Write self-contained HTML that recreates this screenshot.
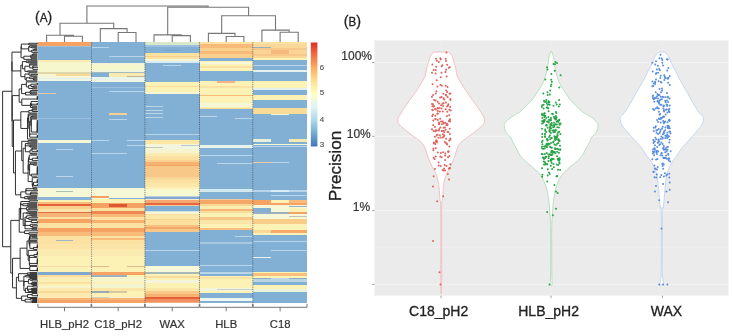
<!DOCTYPE html>
<html><head><meta charset="utf-8"><style>
html,body{margin:0;padding:0;background:#fff;}
body{width:733px;height:336px;overflow:hidden;position:relative;}
svg{position:absolute;left:0;top:0;will-change:transform;}
text{font-family:"Liberation Sans",sans-serif;}
</style></head><body>
<svg width="733" height="336" viewBox="0 0 733 336">
<rect x="0" y="0" width="733" height="336" fill="#fff"/>
<!-- Panel A -->
<text x="35" y="21.5" font-size="13" fill="#222" stroke="#222" stroke-width="0.3" textLength="17.2" lengthAdjust="spacingAndGlyphs"><tspan font-size="15.5">(</tspan>A<tspan font-size="15.5">)</tspan></text>
<path d="M64.5 42.3L64.5 36.3L82.4 36.3L82.4 42.3M46.6 42.3L46.6 35.3L73.5 35.3L73.5 36.3M118.2 42.3L118.2 32.5L136.0 32.5L136.0 42.3M100.3 42.3L100.3 28.6L127.1 28.6L127.1 32.5M60.0 35.3L60.0 23.3L113.7 23.3L113.7 28.6M172.2 42.3L172.2 35.6L190.4 35.6L190.4 42.3M154.0 42.3L154.0 34.9L181.3 34.9L181.3 35.6M226.2 42.3L226.2 36.5L243.9 36.5L243.9 42.3M208.4 42.3L208.4 33.4L235.0 33.4L235.0 36.5M280.1 42.3L280.1 32.3L298.2 32.3L298.2 42.3M261.9 42.3L261.9 30.1L289.1 30.1L289.1 32.3M221.7 33.4L221.7 15.7L275.5 15.7L275.5 30.1M167.7 34.9L167.7 7.2L248.6 7.2L248.6 15.7M86.9 23.3L86.9 6.0L208.1 6.0L208.1 7.2" fill="none" stroke="#777" stroke-width="1.1"/>
<path d="M37.40 42.80H37.34V43.80H37.40M37.40 51.82H37.34V52.83H37.40M37.40 66.86H37.34V67.87H37.40M37.40 68.87H37.34V69.87H37.40M37.40 73.88H37.34V74.89H37.40M37.40 82.91H37.34V83.91H37.40M37.34 83.41H37.31V84.91H37.40M37.40 89.93H37.34V90.93H37.40M37.40 95.94H37.34V96.95H37.40M37.34 96.44H37.31V97.95H37.40M37.31 97.20H37.29V98.95H37.40M37.29 98.07H37.27V99.95H37.40M37.40 100.96H37.34V101.96H37.40M37.40 102.96H37.34V103.96H37.40M37.34 103.46H37.31V104.97H37.40M37.40 110.98H37.34V111.99H37.40M37.40 120.01H37.34V121.01H37.40M37.34 120.51H37.31V122.01H37.40M37.31 121.26H37.29V123.02H37.40M37.29 122.14H37.27V124.02H37.40M37.27 123.08H37.26V125.02H37.40M37.26 124.05H37.25V126.02H37.40M37.25 125.04H37.23V127.03H37.40M37.23 126.03H37.22V128.03H37.40M37.22 127.03H37.21V129.03H37.40M37.21 128.03H37.20V130.04H37.40M37.20 129.03H37.19V131.04H37.40M37.19 130.04H37.18V132.04H37.40M37.18 131.04H37.17V133.04H37.40M37.40 135.05H37.34V136.05H37.40M37.34 135.55H37.31V137.05H37.40M37.31 136.30H37.29V138.06H37.40M37.40 150.09H37.34V151.09H37.40M37.34 150.59H37.31V152.09H37.40M37.40 156.11H37.34V157.11H37.40M37.34 156.61H37.31V158.11H37.40M37.31 157.36H37.29V159.11H37.40M37.40 160.12H37.34V161.12H37.40M37.40 166.13H37.34V167.14H37.40M37.34 166.63H37.31V168.14H37.40M37.31 167.39H37.29V169.14H37.40M37.29 168.26H37.27V170.14H37.40M37.27 169.20H37.26V171.15H37.40M37.26 170.17H37.25V172.15H37.40M37.25 171.16H37.23V173.15H37.40M37.23 172.16H37.22V174.15H37.40M37.22 173.16H37.21V175.16H37.40M37.40 177.16H37.34V178.16H37.40M37.40 179.17H37.34V180.17H37.40M37.34 179.67H37.31V181.17H37.40M37.31 180.42H37.29V182.18H37.40M37.29 181.30H37.27V183.18H37.40M37.40 184.18H37.34V185.18H37.40M37.34 184.68H37.31V186.19H37.40M37.40 190.20H37.34V191.20H37.40M37.40 193.21H37.34V194.21H37.40M37.40 200.22H37.34V201.23H37.40M37.40 209.25H37.34V210.25H37.40M37.40 217.27H37.34V218.27H37.40M37.40 221.28H37.34V222.28H37.40M37.34 221.78H37.31V223.29H37.40M37.40 225.29H37.34V226.29H37.40M37.40 230.31H37.34V231.31H37.40M37.40 232.31H37.34V233.31H37.40M37.40 238.33H37.34V239.33H37.40M37.40 242.34H37.34V243.34H37.40M37.40 244.34H37.34V245.35H37.40M37.34 244.84H37.31V246.35H37.40M37.31 245.60H37.29V247.35H37.40M37.29 246.47H37.27V248.35H37.40M37.40 251.36H37.34V252.36H37.40M37.34 251.86H37.31V253.37H37.40M37.31 252.62H37.29V254.37H37.40M37.29 253.49H37.27V255.37H37.40M37.40 258.38H37.34V259.38H37.40M37.34 258.88H37.31V260.39H37.40M37.31 259.63H37.29V261.39H37.40M37.29 260.51H37.27V262.39H37.40M37.27 261.45H37.26V263.39H37.40M37.26 262.42H37.25V264.40H37.40M37.40 267.41H37.34V268.41H37.40M37.34 267.91H37.31V269.41H37.40M37.31 268.66H37.29V270.41H37.40M37.29 269.54H37.27V271.42H37.40M37.40 280.44H37.34V281.44H37.40M37.40 286.46H37.34V287.46H37.40M37.40 294.48H37.34V295.48H37.40M37.34 294.98H37.31V296.48H37.40M37.40 48.82H34.96V49.82H37.40M37.27 254.43H34.00V256.38H37.40M37.40 78.90H33.80V79.90H37.40M34.96 49.32H33.59V50.82H37.40M37.27 182.24H33.52V185.43H37.31M37.27 247.41H33.48V249.36H37.40M37.40 164.13H33.33V165.13H37.40M37.40 77.89H33.26V79.40H33.80M37.40 188.19H33.21V189.19H37.40M37.40 85.92H33.15V86.92H37.40M37.40 53.83H33.10V54.83H37.40M37.40 65.86H32.84V67.37H37.34M32.84 66.61H32.84V69.37H37.34M37.40 285.45H32.83V286.96H37.34M33.52 183.84H32.64V187.19H37.40M37.40 299.49H32.56V300.49H37.40M33.10 54.33H32.40V55.84H37.40M37.29 158.24H32.35V160.62H37.34M37.34 177.66H32.26V185.51H32.64M37.40 282.45H32.23V283.45H37.40M37.34 225.79H32.20V227.30H37.40M37.40 108.98H32.18V109.98H37.40M32.18 109.48H32.18V111.49H37.34M37.40 116.00H32.18V117.00H37.40M37.40 236.32H32.18V237.32H37.40M37.40 106.97H32.17V107.98H37.40M37.40 293.48H32.05V295.73H37.31M37.40 87.92H32.05V88.92H37.40M37.40 148.08H31.95V149.09H37.40M31.95 148.59H31.95V151.34H37.31M37.40 279.44H31.85V280.94H37.34M37.40 228.30H31.82V229.30H37.40M37.40 301.50H31.80V302.50H37.40M33.59 50.07H31.79V52.33H37.34M37.40 289.46H31.66V290.47H37.40M37.31 104.22H31.62V105.97H37.40M37.40 215.26H31.61V216.27H37.40M37.40 46.81H31.51V47.81H37.40M32.23 282.95H31.50V284.45H37.40M37.21 174.16H31.34V176.16H37.40M37.40 220.28H31.32V222.53H37.31M37.40 288.46H31.31V289.97H31.66M37.40 119.01H31.30V132.04H37.17M37.34 74.39H31.26V75.89H37.40M37.40 140.06H31.19V141.06H37.40M37.40 153.10H31.19V154.10H37.40M37.34 101.46H31.17V105.09H31.62M37.40 58.84H31.16V59.85H37.40M37.31 84.16H30.91V86.42H33.15M37.40 192.20H30.87V193.71H37.34M37.40 56.84H30.83V57.84H37.40M32.40 55.08H30.83V57.34H30.83M32.18 116.50H30.80V118.00H37.40M30.80 117.25H30.80V125.52H31.30M37.34 90.43H30.73V91.93H37.40M37.40 92.94H30.68V93.94H37.40M37.40 163.12H30.65V164.63H33.33M31.17 103.28H30.46V107.47H32.17M30.87 192.95H30.36V195.21H37.40M37.40 224.29H30.32V226.55H32.20M37.40 298.49H30.25V299.99H32.56M37.40 272.42H30.14V273.42H37.40M30.73 91.18H30.09V93.44H30.68M31.95 149.96H30.01V153.60H31.19M37.40 146.08H29.96V147.08H37.40M37.40 278.44H29.93V280.19H31.85M37.40 145.08H29.90V146.58H29.96M37.34 242.84H29.86V248.39H33.48M32.18 236.82H29.85V238.83H37.34M37.40 235.32H29.85V237.83H29.85M37.40 266.40H29.74V270.48H37.27M37.40 76.89H29.72V78.65H33.26M37.40 63.86H29.72V64.86H37.40M29.72 64.36H29.72V67.99H32.84M37.40 134.05H29.67V137.18H37.29M30.80 121.39H29.67V135.61H29.67M37.40 45.81H29.62V47.31H31.51M30.65 163.88H29.58V175.16H31.34M37.25 263.41H29.50V265.40H37.40M29.85 236.57H29.48V240.33H37.40M37.40 213.26H29.46V214.26H37.40M37.40 241.34H29.39V245.61H29.86M37.34 200.73H29.36V202.23H37.40M34.00 255.40H29.29V257.38H37.40M29.29 256.39H29.29V264.41H29.50M37.40 155.10H29.26V159.43H32.35M37.40 208.25H29.23V209.75H37.34M37.40 276.43H29.13V277.43H37.40M29.48 238.45H28.98V243.47H29.39M37.40 72.88H28.94V75.14H31.26M37.34 232.81H28.91V234.32H37.40M32.18 110.48H28.90V112.99H37.40M37.40 114.99H28.78V128.50H29.67M37.34 43.30H28.76V44.81H37.40M37.34 217.77H28.70V219.28H37.40M29.62 46.56H28.65V51.20H31.79M30.91 85.29H28.65V88.42H32.05M29.26 157.26H28.63V162.12H37.40M29.93 279.31H28.39V283.70H31.50M28.63 159.69H28.31V169.52H29.58M31.31 289.21H28.30V291.47H37.40M37.40 250.36H28.23V260.40H29.29M31.19 140.56H28.20V142.07H37.40M37.40 113.99H28.18V121.75H28.78M37.40 198.22H28.16V199.22H37.40M28.31 164.61H28.13V181.59H32.26M29.23 209.00H28.01V211.25H37.40M37.40 61.85H27.89V62.85H37.40M37.40 203.23H27.59V204.24H37.40M32.83 286.21H27.54V290.34H28.30M37.40 70.88H27.52V71.88H37.40M37.40 196.21H27.49V197.22H37.40M28.18 117.87H27.48V139.06H37.40M32.05 294.60H27.48V297.49H37.40M37.40 143.07H27.40V144.07H37.40M37.40 205.24H27.36V206.24H37.40M30.14 272.92H27.29V274.42H37.40M28.98 240.96H27.02V255.38H28.23M37.40 212.26H26.76V213.76H29.46M31.61 215.77H26.68V218.52H28.70M37.40 207.24H26.65V210.13H28.01M37.40 81.91H26.33V86.86H28.65M29.72 77.77H26.24V80.90H37.40M37.40 60.85H26.13V62.35H27.89M33.21 188.69H25.92V190.70H37.34M25.92 189.70H25.92V194.08H30.36M37.40 275.43H25.77V276.93H29.13M30.09 92.31H25.44V94.94H37.40M27.54 288.27H25.38V292.47H37.40M27.40 143.57H25.36V145.83H29.90M25.36 144.70H25.36V151.78H30.01M30.25 299.24H25.18V302.00H31.80M26.68 217.14H25.01V221.41H31.32M25.01 219.28H25.01V225.42H30.32M25.01 222.35H25.01V228.80H31.82M28.94 74.01H24.96V79.34H26.24M29.72 66.18H24.89V71.38H27.52M27.49 196.71H24.66V198.72H28.16M37.34 230.81H24.61V233.56H28.91M28.39 281.51H23.89V290.37H25.38M25.77 276.18H23.89V285.94H23.89M30.83 56.21H23.84V59.34H31.16M26.76 213.01H23.20V225.57H25.01M25.36 148.24H23.15V173.10H28.13M27.59 203.73H22.79V205.74H27.36M26.13 61.60H22.36V68.78H24.89M37.27 99.01H21.81V105.37H30.46M28.20 141.32H21.74V160.67H23.15M27.48 296.05H21.64V300.62H25.18M26.33 84.38H21.60V93.62H25.44M28.76 44.05H21.30V48.88H28.65M21.30 46.47H21.06V57.78H23.84M29.36 201.48H20.88V204.74H22.79M22.36 65.19H20.84V76.67H24.96M28.90 111.74H20.82V128.46H27.48M25.92 191.89H20.79V197.72H24.66M26.65 208.68H20.60V219.29H23.20M20.88 203.11H20.60V213.99H20.60M27.02 248.17H20.11V268.44H29.74M20.60 208.55H19.22V232.19H24.61M21.60 89.00H19.15V102.19H21.81M27.29 273.67H18.58V281.06H23.89M18.58 277.37H16.38V298.33H21.64M21.74 150.99H15.44V194.80H20.79M20.82 120.10H13.53V172.90H15.44M20.11 258.31H12.55V287.85H16.38M19.15 95.60H12.23V146.50H13.53M21.06 52.12H11.96V70.93H20.84M11.96 61.53H11.96V121.05H12.23M19.22 220.37H10.77V273.08H12.55M11.96 91.29H2.60V246.72H10.77" fill="none" stroke="#1a1a1a" stroke-width="0.9"/>
<g shape-rendering="crispEdges">
<rect x="37.60" y="42.30" width="53.80" height="3.50" fill="#f5a263"/>
<rect x="37.60" y="45.80" width="53.80" height="1.20" fill="#9cc0dc"/>
<rect x="37.60" y="47.00" width="53.80" height="13.00" fill="#82b0d5"/>
<rect x="37.60" y="60.00" width="53.80" height="1.50" fill="#fbeab0"/>
<rect x="37.60" y="61.50" width="53.80" height="10.80" fill="#f6f7cc"/>
<rect x="37.60" y="72.30" width="53.80" height="1.20" fill="#e0d8a8"/>
<rect x="37.60" y="73.50" width="53.80" height="2.70" fill="#f9da98"/>
<rect x="37.60" y="76.20" width="53.80" height="1.90" fill="#f6f7d8"/>
<rect x="37.60" y="78.10" width="53.80" height="1.20" fill="#e0f0ec"/>
<rect x="37.60" y="79.30" width="53.80" height="1.90" fill="#f0f6e4"/>
<rect x="37.60" y="81.20" width="53.80" height="58.60" fill="#82b0d5"/>
<rect x="37.60" y="139.80" width="53.80" height="2.80" fill="#f5f7d6"/>
<rect x="37.60" y="142.60" width="53.80" height="45.10" fill="#82b0d5"/>
<rect x="37.60" y="187.70" width="53.80" height="8.90" fill="#f5f7d6"/>
<rect x="37.60" y="196.60" width="53.80" height="3.60" fill="#8cb4d6"/>
<rect x="37.60" y="200.20" width="53.80" height="1.40" fill="#fcf2b6"/>
<rect x="37.60" y="201.60" width="53.80" height="1.90" fill="#f8bb7a"/>
<rect x="37.60" y="203.50" width="53.80" height="2.90" fill="#e4623b"/>
<rect x="37.60" y="206.40" width="53.80" height="2.20" fill="#f9cf8c"/>
<rect x="37.60" y="208.60" width="53.80" height="3.00" fill="#fbe4a8"/>
<rect x="37.60" y="211.60" width="53.80" height="1.40" fill="#dc7048"/>
<rect x="37.60" y="213.00" width="53.80" height="4.10" fill="#f6b478"/>
<rect x="37.60" y="217.10" width="53.80" height="2.20" fill="#fbe1a2"/>
<rect x="37.60" y="219.30" width="53.80" height="4.10" fill="#f5a263"/>
<rect x="37.60" y="223.40" width="53.80" height="4.50" fill="#fbe1a2"/>
<rect x="37.60" y="227.90" width="53.80" height="4.40" fill="#f5a263"/>
<rect x="37.60" y="232.30" width="53.80" height="3.60" fill="#f8bb7a"/>
<rect x="37.60" y="235.90" width="53.80" height="3.60" fill="#fbe1a2"/>
<rect x="37.60" y="239.50" width="53.80" height="4.50" fill="#fbe1a2"/>
<rect x="37.60" y="244.00" width="53.80" height="5.00" fill="#fbe4a6"/>
<rect x="37.60" y="249.00" width="53.80" height="7.00" fill="#fcebb0"/>
<rect x="37.60" y="256.00" width="53.80" height="10.00" fill="#fcf2b6"/>
<rect x="37.60" y="266.00" width="53.80" height="1.00" fill="#f6dcaa"/>
<rect x="37.60" y="267.00" width="53.80" height="5.00" fill="#fcf2b6"/>
<rect x="37.60" y="272.00" width="53.80" height="3.40" fill="#7ea8cc"/>
<rect x="37.60" y="275.40" width="53.80" height="2.00" fill="#fadca0"/>
<rect x="37.60" y="277.40" width="53.80" height="4.10" fill="#fceeb4"/>
<rect x="37.60" y="281.50" width="53.80" height="2.00" fill="#fbe0a0"/>
<rect x="37.60" y="283.50" width="53.80" height="2.80" fill="#fcf2b6"/>
<rect x="37.60" y="286.30" width="53.80" height="2.00" fill="#f8f4d0"/>
<rect x="37.60" y="288.30" width="53.80" height="2.70" fill="#fceab0"/>
<rect x="37.60" y="291.00" width="53.80" height="2.10" fill="#fad898"/>
<rect x="37.60" y="293.10" width="53.80" height="4.80" fill="#fceab0"/>
<rect x="37.60" y="297.90" width="53.80" height="2.40" fill="#f6b478"/>
<rect x="37.60" y="300.30" width="53.80" height="2.50" fill="#f4a466"/>
<rect x="37.60" y="73.50" width="17.93" height="2.70" fill="#f4f6d0"/>
<rect x="37.60" y="92.50" width="17.93" height="1.00" fill="#e8c8a8"/>
<rect x="37.60" y="118.00" width="17.93" height="1.00" fill="#9cc0e0"/>
<rect x="55.53" y="118.00" width="17.93" height="1.00" fill="#9cc0e0"/>
<rect x="73.47" y="118.00" width="17.93" height="1.00" fill="#9cc0e0"/>
<rect x="55.53" y="148.50" width="17.93" height="1.00" fill="#b8d5ea"/>
<rect x="55.53" y="175.50" width="17.93" height="1.00" fill="#b8d5ea"/>
<rect x="55.53" y="191.30" width="17.93" height="1.00" fill="#b0c0b8"/>
<rect x="55.53" y="240.00" width="17.93" height="1.00" fill="#a0b4c4"/>
<rect x="91.40" y="42.30" width="53.50" height="20.30" fill="#82b0d5"/>
<rect x="91.40" y="62.60" width="53.50" height="1.20" fill="#eef4d8"/>
<rect x="91.40" y="63.80" width="53.50" height="6.60" fill="#f6f7cc"/>
<rect x="91.40" y="70.40" width="53.50" height="1.60" fill="#f4f6dc"/>
<rect x="91.40" y="72.00" width="53.50" height="1.10" fill="#a8b8c0"/>
<rect x="91.40" y="73.10" width="53.50" height="3.50" fill="#f9eab0"/>
<rect x="91.40" y="76.60" width="53.50" height="3.80" fill="#e8f4ec"/>
<rect x="91.40" y="80.40" width="53.50" height="1.80" fill="#f0f6e4"/>
<rect x="91.40" y="82.20" width="53.50" height="105.50" fill="#82b0d5"/>
<rect x="91.40" y="187.70" width="53.50" height="8.30" fill="#f5f7d6"/>
<rect x="91.40" y="196.00" width="53.50" height="2.00" fill="#f5f7d6"/>
<rect x="91.40" y="198.00" width="53.50" height="1.30" fill="#82b0d5"/>
<rect x="91.40" y="199.30" width="53.50" height="3.30" fill="#fcf2b6"/>
<rect x="91.40" y="202.60" width="53.50" height="5.00" fill="#f5a263"/>
<rect x="91.40" y="207.60" width="53.50" height="3.80" fill="#fbe1a2"/>
<rect x="91.40" y="211.40" width="53.50" height="2.50" fill="#ee8852"/>
<rect x="91.40" y="213.90" width="53.50" height="3.20" fill="#f8bb7a"/>
<rect x="91.40" y="217.10" width="53.50" height="2.70" fill="#fbe1a2"/>
<rect x="91.40" y="219.80" width="53.50" height="3.60" fill="#f7b070"/>
<rect x="91.40" y="223.40" width="53.50" height="4.50" fill="#fbe1a2"/>
<rect x="91.40" y="227.90" width="53.50" height="3.90" fill="#f5a263"/>
<rect x="91.40" y="231.80" width="53.50" height="4.10" fill="#f8bb7a"/>
<rect x="91.40" y="235.90" width="53.50" height="2.10" fill="#fbe1a2"/>
<rect x="91.40" y="238.00" width="53.50" height="2.00" fill="#f8bb7a"/>
<rect x="91.40" y="240.00" width="53.50" height="4.00" fill="#fbe1a2"/>
<rect x="91.40" y="244.00" width="53.50" height="5.00" fill="#fbe4a6"/>
<rect x="91.40" y="249.00" width="53.50" height="7.00" fill="#fcebb0"/>
<rect x="91.40" y="256.00" width="53.50" height="15.60" fill="#fcf2b6"/>
<rect x="91.40" y="271.60" width="53.50" height="3.50" fill="#f5a263"/>
<rect x="91.40" y="275.10" width="53.50" height="1.90" fill="#fcf2b6"/>
<rect x="91.40" y="277.00" width="53.50" height="4.50" fill="#f8f4cc"/>
<rect x="91.40" y="281.50" width="53.50" height="2.70" fill="#fcf2b6"/>
<rect x="91.40" y="284.20" width="53.50" height="3.40" fill="#f4f4d0"/>
<rect x="91.40" y="287.60" width="53.50" height="3.40" fill="#fbe6a8"/>
<rect x="91.40" y="291.00" width="53.50" height="2.10" fill="#fcf2b6"/>
<rect x="91.40" y="293.10" width="53.50" height="3.40" fill="#fcf2b6"/>
<rect x="91.40" y="296.50" width="53.50" height="1.40" fill="#f4f0d0"/>
<rect x="91.40" y="297.90" width="53.50" height="2.40" fill="#f6b478"/>
<rect x="91.40" y="300.30" width="53.50" height="2.50" fill="#f4a466"/>
<rect x="91.40" y="47.00" width="17.83" height="1.00" fill="#b8d5ea"/>
<rect x="109.23" y="56.00" width="17.83" height="1.00" fill="#b8d5ea"/>
<rect x="127.07" y="56.00" width="17.83" height="1.00" fill="#b8d5ea"/>
<rect x="91.40" y="73.10" width="17.83" height="3.50" fill="#82b0d5"/>
<rect x="127.07" y="75.80" width="17.83" height="1.20" fill="#c8b090"/>
<rect x="91.40" y="87.00" width="17.83" height="1.00" fill="#9cc0e0"/>
<rect x="109.23" y="87.00" width="17.83" height="1.00" fill="#9cc0e0"/>
<rect x="127.07" y="87.00" width="17.83" height="1.00" fill="#9cc0e0"/>
<rect x="109.23" y="91.30" width="17.83" height="1.00" fill="#b8d5ea"/>
<rect x="127.07" y="91.30" width="17.83" height="1.00" fill="#b8d5ea"/>
<rect x="109.23" y="112.70" width="17.83" height="1.90" fill="#f9cf8c"/>
<rect x="109.23" y="119.00" width="17.83" height="1.00" fill="#b8d5ea"/>
<rect x="91.40" y="140.00" width="17.83" height="1.00" fill="#b8d5ea"/>
<rect x="127.07" y="140.00" width="17.83" height="1.00" fill="#b8d5ea"/>
<rect x="127.07" y="144.80" width="17.83" height="1.00" fill="#b8d5ea"/>
<rect x="91.40" y="153.00" width="17.83" height="1.00" fill="#b8d5ea"/>
<rect x="109.23" y="153.00" width="17.83" height="1.00" fill="#b8d5ea"/>
<rect x="91.40" y="196.00" width="17.83" height="2.00" fill="#f5a263"/>
<rect x="91.40" y="198.00" width="17.83" height="1.30" fill="#f5f7d6"/>
<rect x="109.23" y="204.00" width="17.83" height="2.60" fill="#dc5834"/>
<rect x="91.40" y="265.80" width="17.83" height="1.00" fill="#e0b890"/>
<rect x="127.07" y="265.80" width="17.83" height="1.00" fill="#e0b890"/>
<rect x="91.40" y="275.10" width="17.83" height="1.90" fill="#a0b0c0"/>
<rect x="109.23" y="275.10" width="17.83" height="1.90" fill="#a0b0c0"/>
<rect x="91.40" y="291.00" width="17.83" height="2.10" fill="#9caab0"/>
<rect x="109.23" y="291.00" width="17.83" height="2.10" fill="#d8c8a0"/>
<rect x="91.40" y="296.50" width="17.83" height="1.40" fill="#d0d0c0"/>
<rect x="144.90" y="42.30" width="54.60" height="2.50" fill="#d8e8c8"/>
<rect x="144.90" y="44.80" width="54.60" height="2.00" fill="#9cc0dd"/>
<rect x="144.90" y="46.80" width="54.60" height="6.40" fill="#82b0d5"/>
<rect x="144.90" y="53.20" width="54.60" height="2.30" fill="#fbe1a2"/>
<rect x="144.90" y="55.50" width="54.60" height="1.50" fill="#f9cf8c"/>
<rect x="144.90" y="57.00" width="54.60" height="2.30" fill="#fbe1a2"/>
<rect x="144.90" y="59.30" width="54.60" height="2.00" fill="#f5f7d6"/>
<rect x="144.90" y="61.30" width="54.60" height="1.90" fill="#d8ecf0"/>
<rect x="144.90" y="63.20" width="54.60" height="18.40" fill="#82b0d5"/>
<rect x="144.90" y="81.60" width="54.60" height="4.20" fill="#fcf2b6"/>
<rect x="144.90" y="85.80" width="54.60" height="1.60" fill="#f9dc98"/>
<rect x="144.90" y="87.40" width="54.60" height="4.80" fill="#fcf2b6"/>
<rect x="144.90" y="92.20" width="54.60" height="2.00" fill="#f5f7d6"/>
<rect x="144.90" y="94.20" width="54.60" height="45.50" fill="#82b0d5"/>
<rect x="144.90" y="139.70" width="54.60" height="4.20" fill="#fbe6a4"/>
<rect x="144.90" y="143.90" width="54.60" height="2.10" fill="#f4f6d8"/>
<rect x="144.90" y="146.00" width="54.60" height="2.70" fill="#f0f6e0"/>
<rect x="144.90" y="148.70" width="54.60" height="4.10" fill="#f6f4d0"/>
<rect x="144.90" y="152.80" width="54.60" height="3.00" fill="#fbebb0"/>
<rect x="144.90" y="155.80" width="54.60" height="4.20" fill="#fbe0a0"/>
<rect x="144.90" y="160.00" width="54.60" height="2.40" fill="#f9d090"/>
<rect x="144.90" y="162.40" width="54.60" height="2.10" fill="#f6b474"/>
<rect x="144.90" y="164.50" width="54.60" height="1.50" fill="#f4a462"/>
<rect x="144.90" y="166.00" width="54.60" height="2.00" fill="#f8c888"/>
<rect x="144.90" y="168.00" width="54.60" height="8.50" fill="#f8c888"/>
<rect x="144.90" y="176.50" width="54.60" height="2.20" fill="#f9d498"/>
<rect x="144.90" y="178.70" width="54.60" height="4.50" fill="#fbe0a0"/>
<rect x="144.90" y="183.20" width="54.60" height="3.70" fill="#fbe8a8"/>
<rect x="144.90" y="186.90" width="54.60" height="2.20" fill="#fcf0b8"/>
<rect x="144.90" y="189.10" width="54.60" height="6.60" fill="#f8f8d0"/>
<rect x="144.90" y="195.70" width="54.60" height="1.10" fill="#b8d0e0"/>
<rect x="144.90" y="196.80" width="54.60" height="2.60" fill="#80a8d0"/>
<rect x="144.90" y="199.40" width="54.60" height="0.80" fill="#f4ecd0"/>
<rect x="144.90" y="200.20" width="54.60" height="2.60" fill="#f6a870"/>
<rect x="144.90" y="202.80" width="54.60" height="2.20" fill="#e4683c"/>
<rect x="144.90" y="205.00" width="54.60" height="1.10" fill="#f6c8a0"/>
<rect x="144.90" y="206.10" width="54.60" height="4.90" fill="#82b0d5"/>
<rect x="144.90" y="211.00" width="54.60" height="1.00" fill="#d8e4e0"/>
<rect x="144.90" y="212.00" width="54.60" height="1.90" fill="#f5f7d6"/>
<rect x="144.90" y="213.90" width="54.60" height="1.40" fill="#fadc9c"/>
<rect x="144.90" y="215.30" width="54.60" height="3.40" fill="#fbe8a8"/>
<rect x="144.90" y="218.70" width="54.60" height="1.50" fill="#f9d090"/>
<rect x="144.90" y="220.20" width="54.60" height="4.40" fill="#fbe0a0"/>
<rect x="144.90" y="224.60" width="54.60" height="2.30" fill="#f8c080"/>
<rect x="144.90" y="226.90" width="54.60" height="1.80" fill="#f4a868"/>
<rect x="144.90" y="228.70" width="54.60" height="3.40" fill="#f8c888"/>
<rect x="144.90" y="232.10" width="54.60" height="33.50" fill="#82b0d5"/>
<rect x="144.90" y="265.60" width="54.60" height="6.40" fill="#f8f8d8"/>
<rect x="144.90" y="272.00" width="54.60" height="1.70" fill="#a8b8b8"/>
<rect x="144.90" y="273.70" width="54.60" height="1.90" fill="#fcf2b6"/>
<rect x="144.90" y="275.60" width="54.60" height="2.10" fill="#fadc9c"/>
<rect x="144.90" y="277.70" width="54.60" height="2.20" fill="#fcf2b6"/>
<rect x="144.90" y="279.90" width="54.60" height="3.50" fill="#f4f4dc"/>
<rect x="144.90" y="283.40" width="54.60" height="4.30" fill="#fcf2b6"/>
<rect x="144.90" y="287.70" width="54.60" height="2.90" fill="#fbe6a8"/>
<rect x="144.90" y="290.60" width="54.60" height="3.50" fill="#f8c888"/>
<rect x="144.90" y="294.10" width="54.60" height="2.90" fill="#f6b070"/>
<rect x="144.90" y="297.00" width="54.60" height="2.40" fill="#e5603a"/>
<rect x="144.90" y="299.40" width="54.60" height="2.60" fill="#f09060"/>
<rect x="144.90" y="302.00" width="54.60" height="0.80" fill="#f6b080"/>
<rect x="163.10" y="49.50" width="18.20" height="1.00" fill="#78a6d0"/>
<rect x="163.10" y="64.50" width="18.20" height="1.00" fill="#b8d5ea"/>
<rect x="144.90" y="105.50" width="18.20" height="1.00" fill="#b8d5ea"/>
<rect x="144.90" y="109.50" width="18.20" height="1.00" fill="#b8d5ea"/>
<rect x="144.90" y="113.00" width="18.20" height="1.00" fill="#b8d5ea"/>
<rect x="144.90" y="116.50" width="18.20" height="1.00" fill="#b8d5ea"/>
<rect x="144.90" y="133.50" width="18.20" height="1.00" fill="#b8d5ea"/>
<rect x="163.10" y="133.50" width="18.20" height="1.00" fill="#b8d5ea"/>
<rect x="181.30" y="133.50" width="18.20" height="1.00" fill="#b8d5ea"/>
<rect x="181.30" y="144.50" width="18.20" height="1.00" fill="#b8c8d0"/>
<rect x="144.90" y="147.00" width="18.20" height="1.00" fill="#c8c8b8"/>
<rect x="144.90" y="250.30" width="18.20" height="1.00" fill="#b8d5ea"/>
<rect x="163.10" y="250.30" width="18.20" height="1.00" fill="#b8d5ea"/>
<rect x="181.30" y="250.30" width="18.20" height="1.00" fill="#b8d5ea"/>
<rect x="199.50" y="42.30" width="53.30" height="1.70" fill="#fbe1a2"/>
<rect x="199.50" y="44.00" width="53.30" height="4.00" fill="#f8bb7a"/>
<rect x="199.50" y="48.00" width="53.30" height="3.00" fill="#f9cf8c"/>
<rect x="199.50" y="51.00" width="53.30" height="3.00" fill="#f8bb7a"/>
<rect x="199.50" y="54.00" width="53.30" height="4.40" fill="#f9cf8c"/>
<rect x="199.50" y="58.40" width="53.30" height="2.50" fill="#82b0d5"/>
<rect x="199.50" y="60.90" width="53.30" height="1.10" fill="#fcf2b6"/>
<rect x="199.50" y="62.00" width="53.30" height="2.00" fill="#f5f7d6"/>
<rect x="199.50" y="64.00" width="53.30" height="2.00" fill="#fcf2b6"/>
<rect x="199.50" y="66.00" width="53.30" height="2.00" fill="#fbe1a2"/>
<rect x="199.50" y="68.00" width="53.30" height="3.00" fill="#fcf2b6"/>
<rect x="199.50" y="71.00" width="53.30" height="10.00" fill="#82b0d5"/>
<rect x="199.50" y="81.00" width="53.30" height="1.50" fill="#fcf2b6"/>
<rect x="199.50" y="82.50" width="53.30" height="3.50" fill="#fcf2b6"/>
<rect x="199.50" y="86.00" width="53.30" height="2.00" fill="#fbe1a2"/>
<rect x="199.50" y="88.00" width="53.30" height="6.50" fill="#fcf2b6"/>
<rect x="199.50" y="94.50" width="53.30" height="1.30" fill="#f8bb7a"/>
<rect x="199.50" y="95.80" width="53.30" height="6.70" fill="#fcf2b6"/>
<rect x="199.50" y="102.50" width="53.30" height="4.20" fill="#f5f7d6"/>
<rect x="199.50" y="106.70" width="53.30" height="0.80" fill="#fcf2b6"/>
<rect x="199.50" y="107.50" width="53.30" height="1.30" fill="#f9d898"/>
<rect x="199.50" y="108.80" width="53.30" height="35.80" fill="#82b0d5"/>
<rect x="199.50" y="144.60" width="53.30" height="2.90" fill="#e8f2e8"/>
<rect x="199.50" y="147.50" width="53.30" height="41.70" fill="#82b0d5"/>
<rect x="199.50" y="189.20" width="53.30" height="2.80" fill="#d4eaf2"/>
<rect x="199.50" y="192.00" width="53.30" height="6.50" fill="#82b0d5"/>
<rect x="199.50" y="198.50" width="53.30" height="1.60" fill="#f0c8a0"/>
<rect x="199.50" y="200.10" width="53.30" height="3.90" fill="#f4a868"/>
<rect x="199.50" y="204.00" width="53.30" height="2.30" fill="#f9d898"/>
<rect x="199.50" y="206.30" width="53.30" height="2.30" fill="#fbecb0"/>
<rect x="199.50" y="208.60" width="53.30" height="2.20" fill="#f6b878"/>
<rect x="199.50" y="210.80" width="53.30" height="2.30" fill="#fadc9c"/>
<rect x="199.50" y="213.10" width="53.30" height="3.90" fill="#fcf2b6"/>
<rect x="199.50" y="217.00" width="53.30" height="3.40" fill="#f8c888"/>
<rect x="199.50" y="220.40" width="53.30" height="4.00" fill="#fbe6a8"/>
<rect x="199.50" y="224.40" width="53.30" height="3.40" fill="#fcf2b6"/>
<rect x="199.50" y="227.80" width="53.30" height="1.70" fill="#f8c080"/>
<rect x="199.50" y="229.50" width="53.30" height="46.10" fill="#82b0d5"/>
<rect x="199.50" y="275.60" width="53.30" height="1.40" fill="#fcf2b6"/>
<rect x="199.50" y="277.00" width="53.30" height="1.50" fill="#fbe1a2"/>
<rect x="199.50" y="278.50" width="53.30" height="9.30" fill="#fcf2b6"/>
<rect x="199.50" y="287.80" width="53.30" height="2.70" fill="#f2f4dc"/>
<rect x="199.50" y="290.50" width="53.30" height="2.40" fill="#fcf2b6"/>
<rect x="199.50" y="292.90" width="53.30" height="4.70" fill="#82b0d5"/>
<rect x="199.50" y="297.60" width="53.30" height="2.90" fill="#eef6f0"/>
<rect x="199.50" y="300.50" width="53.30" height="2.30" fill="#82b0d5"/>
<rect x="217.27" y="81.00" width="17.77" height="1.50" fill="#f0b488"/>
<rect x="199.50" y="116.00" width="17.77" height="1.00" fill="#b8d5ea"/>
<rect x="235.03" y="117.50" width="17.77" height="1.00" fill="#b8d5ea"/>
<rect x="199.50" y="154.50" width="17.77" height="1.00" fill="#b8d5ea"/>
<rect x="217.27" y="154.50" width="17.77" height="1.00" fill="#b8d5ea"/>
<rect x="235.03" y="154.50" width="17.77" height="1.00" fill="#b8d5ea"/>
<rect x="217.27" y="162.50" width="17.77" height="1.00" fill="#b8d5ea"/>
<rect x="235.03" y="162.50" width="17.77" height="1.00" fill="#b8d5ea"/>
<rect x="235.03" y="236.20" width="17.77" height="1.00" fill="#b8d5ea"/>
<rect x="199.50" y="241.80" width="17.77" height="2.00" fill="#a8c8e2"/>
<rect x="217.27" y="241.80" width="17.77" height="2.00" fill="#a8c8e2"/>
<rect x="235.03" y="241.80" width="17.77" height="2.00" fill="#a8c8e2"/>
<rect x="199.50" y="264.50" width="17.77" height="1.50" fill="#b8d5ea"/>
<rect x="217.27" y="264.50" width="17.77" height="1.50" fill="#b8d5ea"/>
<rect x="235.03" y="264.50" width="17.77" height="1.50" fill="#b8d5ea"/>
<rect x="199.50" y="272.00" width="17.77" height="1.50" fill="#b8d5ea"/>
<rect x="217.27" y="272.00" width="17.77" height="1.50" fill="#b8d5ea"/>
<rect x="235.03" y="272.00" width="17.77" height="1.50" fill="#b8d5ea"/>
<rect x="217.27" y="288.60" width="17.77" height="1.20" fill="#c8d0c8"/>
<rect x="235.03" y="288.60" width="17.77" height="1.20" fill="#c8d0c8"/>
<rect x="252.80" y="42.30" width="54.50" height="1.70" fill="#fbe1a2"/>
<rect x="252.80" y="44.00" width="54.50" height="4.00" fill="#f9d898"/>
<rect x="252.80" y="48.00" width="54.50" height="2.00" fill="#f8c88a"/>
<rect x="252.80" y="50.00" width="54.50" height="3.50" fill="#f9d494"/>
<rect x="252.80" y="53.50" width="54.50" height="2.50" fill="#f8c88a"/>
<rect x="252.80" y="56.00" width="54.50" height="2.40" fill="#f9d898"/>
<rect x="252.80" y="58.40" width="54.50" height="1.90" fill="#fcf2b6"/>
<rect x="252.80" y="60.30" width="54.50" height="9.70" fill="#82b0d5"/>
<rect x="252.80" y="70.00" width="54.50" height="2.00" fill="#e2f0ee"/>
<rect x="252.80" y="72.00" width="54.50" height="8.60" fill="#82b0d5"/>
<rect x="252.80" y="80.60" width="54.50" height="7.30" fill="#fcf2b6"/>
<rect x="252.80" y="87.90" width="54.50" height="1.70" fill="#e2f0ee"/>
<rect x="252.80" y="89.60" width="54.50" height="5.60" fill="#82b0d5"/>
<rect x="252.80" y="95.20" width="54.50" height="5.20" fill="#fcf2b6"/>
<rect x="252.80" y="100.40" width="54.50" height="7.80" fill="#82b0d5"/>
<rect x="252.80" y="108.20" width="54.50" height="5.40" fill="#f9dc95"/>
<rect x="252.80" y="113.60" width="54.50" height="2.00" fill="#82b0d5"/>
<rect x="252.80" y="115.60" width="54.50" height="23.20" fill="#82b0d5"/>
<rect x="252.80" y="138.80" width="54.50" height="2.90" fill="#82b0d5"/>
<rect x="252.80" y="141.70" width="54.50" height="1.90" fill="#82b0d5"/>
<rect x="252.80" y="143.60" width="54.50" height="1.40" fill="#f5f7d6"/>
<rect x="252.80" y="145.00" width="54.50" height="45.00" fill="#82b0d5"/>
<rect x="252.80" y="190.00" width="54.50" height="2.00" fill="#b8d5ea"/>
<rect x="252.80" y="192.00" width="54.50" height="7.80" fill="#82b0d5"/>
<rect x="252.80" y="199.80" width="54.50" height="3.00" fill="#fcf2b6"/>
<rect x="252.80" y="202.80" width="54.50" height="1.90" fill="#f5a263"/>
<rect x="252.80" y="204.70" width="54.50" height="2.90" fill="#f5f7d6"/>
<rect x="252.80" y="207.60" width="54.50" height="4.80" fill="#f5f7d6"/>
<rect x="252.80" y="212.40" width="54.50" height="2.00" fill="#98b0bf"/>
<rect x="252.80" y="214.40" width="54.50" height="4.60" fill="#f5f7d6"/>
<rect x="252.80" y="219.00" width="54.50" height="5.00" fill="#f9cc88"/>
<rect x="252.80" y="224.00" width="54.50" height="5.50" fill="#fcf2b6"/>
<rect x="252.80" y="229.50" width="54.50" height="3.90" fill="#f5a868"/>
<rect x="252.80" y="233.40" width="54.50" height="1.40" fill="#fcf2b6"/>
<rect x="252.80" y="234.80" width="54.50" height="36.70" fill="#82b0d5"/>
<rect x="252.80" y="271.50" width="54.50" height="1.20" fill="#fcf2b6"/>
<rect x="252.80" y="272.70" width="54.50" height="2.90" fill="#f7c07c"/>
<rect x="252.80" y="275.60" width="54.50" height="2.00" fill="#fcf2b6"/>
<rect x="252.80" y="277.60" width="54.50" height="1.80" fill="#b8d5ea"/>
<rect x="252.80" y="279.40" width="54.50" height="2.20" fill="#bcd5e3"/>
<rect x="252.80" y="281.60" width="54.50" height="3.00" fill="#82b0d5"/>
<rect x="252.80" y="284.60" width="54.50" height="4.40" fill="#fcf2b6"/>
<rect x="252.80" y="289.00" width="54.50" height="3.00" fill="#eaf2da"/>
<rect x="252.80" y="292.00" width="54.50" height="10.80" fill="#82b0d5"/>
<rect x="252.80" y="46.80" width="18.17" height="1.20" fill="#98b0c0"/>
<rect x="270.97" y="50.00" width="18.17" height="3.50" fill="#f6b87c"/>
<rect x="252.80" y="64.50" width="18.17" height="1.00" fill="#b8d5ea"/>
<rect x="270.97" y="64.50" width="18.17" height="1.00" fill="#b8d5ea"/>
<rect x="289.13" y="64.50" width="18.17" height="1.00" fill="#b8d5ea"/>
<rect x="270.97" y="114.00" width="18.17" height="1.00" fill="#f5f7d6"/>
<rect x="252.80" y="138.80" width="18.17" height="2.90" fill="#e6f0d8"/>
<rect x="270.97" y="138.80" width="18.17" height="2.90" fill="#82b0d5"/>
<rect x="289.13" y="138.80" width="18.17" height="2.90" fill="#f5e8b0"/>
<rect x="252.80" y="146.00" width="18.17" height="1.00" fill="#b8d5ea"/>
<rect x="270.97" y="146.00" width="18.17" height="1.00" fill="#b8d5ea"/>
<rect x="289.13" y="146.00" width="18.17" height="1.00" fill="#b8d5ea"/>
<rect x="252.80" y="161.50" width="18.17" height="1.00" fill="#f0c8a0"/>
<rect x="270.97" y="161.50" width="18.17" height="1.00" fill="#b8d5ea"/>
<rect x="270.97" y="190.00" width="18.17" height="2.00" fill="#dcecf4"/>
<rect x="270.97" y="194.50" width="18.17" height="1.00" fill="#b8d5ea"/>
<rect x="289.13" y="194.50" width="18.17" height="1.00" fill="#b8d5ea"/>
<rect x="252.80" y="199.80" width="18.17" height="3.00" fill="#f5a263"/>
<rect x="289.13" y="199.80" width="18.17" height="3.00" fill="#f8bb7a"/>
<rect x="289.13" y="206.00" width="18.17" height="1.00" fill="#98b0bf"/>
<rect x="252.80" y="207.60" width="18.17" height="4.80" fill="#82b0d5"/>
<rect x="289.13" y="207.60" width="18.17" height="4.80" fill="#fcf2b6"/>
<rect x="289.13" y="212.40" width="18.17" height="2.00" fill="#f5a263"/>
<rect x="289.13" y="215.80" width="18.17" height="1.00" fill="#c0c4b8"/>
<rect x="252.80" y="241.00" width="18.17" height="1.00" fill="#b8d5ea"/>
<rect x="270.97" y="241.00" width="18.17" height="1.00" fill="#b8d5ea"/>
<rect x="289.13" y="241.00" width="18.17" height="1.00" fill="#b8d5ea"/>
<rect x="270.97" y="249.50" width="18.17" height="1.00" fill="#b8d5ea"/>
<rect x="289.13" y="249.50" width="18.17" height="1.00" fill="#b8d5ea"/>
<rect x="252.80" y="257.00" width="18.17" height="1.00" fill="#e8f2f4"/>
<rect x="252.80" y="277.60" width="18.17" height="1.80" fill="#8eaec5"/>
<rect x="289.13" y="277.60" width="18.17" height="1.80" fill="#8eaec5"/>
<rect x="252.80" y="229.50" width="18.17" height="3.90" fill="#fbd898"/>
</g>
<line x1="91.40" y1="42.3" x2="91.40" y2="302.8" stroke="#3c4450" stroke-width="0.8" stroke-dasharray="1.3 0.9" opacity="0.75"/>
<line x1="144.90" y1="42.3" x2="144.90" y2="302.8" stroke="#3c4450" stroke-width="0.8" stroke-dasharray="1.3 0.9" opacity="0.75"/>
<line x1="199.50" y1="42.3" x2="199.50" y2="302.8" stroke="#3c4450" stroke-width="0.8" stroke-dasharray="1.3 0.9" opacity="0.75"/>
<line x1="252.80" y1="42.3" x2="252.80" y2="302.8" stroke="#3c4450" stroke-width="0.8" stroke-dasharray="1.3 0.9" opacity="0.75"/>
<defs><linearGradient id="cb" x1="0" y1="0" x2="0" y2="1">
<stop offset="0" stop-color="#d73027"/>
<stop offset="0.12" stop-color="#f46d43"/>
<stop offset="0.245" stop-color="#fdae61"/>
<stop offset="0.37" stop-color="#fee090"/>
<stop offset="0.49" stop-color="#ffffbf"/>
<stop offset="0.62" stop-color="#e0f3f8"/>
<stop offset="0.75" stop-color="#abd9e9"/>
<stop offset="0.87" stop-color="#74add1"/>
<stop offset="1" stop-color="#4575b4"/>
</linearGradient></defs>
<rect x="310.8" y="42.5" width="6.6" height="104" fill="url(#cb)"/>
<g font-size="7.9" fill="#555" stroke="#555" stroke-width="0.15">
<text x="319.8" y="69.8">6</text>
<text x="319.8" y="95.2">5</text>
<text x="319.8" y="122">4</text>
<text x="319.8" y="146.6">3</text>
</g>
<!-- bottom axis brackets -->
<g stroke="#666" stroke-width="0.9" fill="none">
<path d="M37.9 303.8V307.3H91.1V303.8M64.5 307.3V311.3"/>
<path d="M91.7 303.8V307.3H144.6V303.8M118.2 307.3V311.3"/>
<path d="M145.2 303.8V307.3H199.2V303.8M172.2 307.3V311.3"/>
<path d="M199.8 303.8V307.3H252.5V303.8M226.2 307.3V311.3"/>
<path d="M253.1 303.8V307.3H307.0V303.8M280.1 307.3V311.3"/>
</g>
<g font-size="11.3" fill="#333" stroke="#333" stroke-width="0.2" text-anchor="middle">
<text x="64.5" y="327.5">HLB_pH2</text>
<text x="118.2" y="327.5">C18_pH2</text>
<text x="172.2" y="327.5">WAX</text>
<text x="226.2" y="327.5">HLB</text>
<text x="280.1" y="327.5">C18</text>
</g>
<!-- Panel B -->
<text x="343.8" y="26.1" font-size="12" fill="#222" stroke="#222" stroke-width="0.3" textLength="17.3" lengthAdjust="spacingAndGlyphs"><tspan font-size="15">(</tspan>B<tspan font-size="15">)</tspan></text>
<rect x="374.5" y="40.3" width="354" height="255.4" fill="#ebebeb"/>
<g stroke="#efefef" stroke-width="0.8">
<line x1="374.5" x2="728.5" y1="99.4" y2="99.4"/>
<line x1="374.5" x2="728.5" y1="173.1" y2="173.1"/>
<line x1="374.5" x2="728.5" y1="247.5" y2="247.5"/>
</g>
<g stroke="#f4f4f4" stroke-width="1">
<line x1="374.5" x2="728.5" y1="62.6" y2="62.6"/>
<line x1="374.5" x2="728.5" y1="136.3" y2="136.3"/>
<line x1="374.5" x2="728.5" y1="210.5" y2="210.5"/>
<line x1="374.5" x2="728.5" y1="284.4" y2="284.4"/>
<line x1="441.2" x2="441.2" y1="40.3" y2="295.7" stroke="#eeeeee"/>
<line x1="550.8" x2="550.8" y1="40.3" y2="295.7" stroke="#eeeeee"/>
<line x1="661.8" x2="661.8" y1="40.3" y2="295.7" stroke="#eeeeee"/>
</g>
<g stroke="#888" stroke-width="0.8">
<line x1="372.2" x2="374.5" y1="62.6" y2="62.6"/>
<line x1="372.2" x2="374.5" y1="136.3" y2="136.3"/>
<line x1="372.2" x2="374.5" y1="210.5" y2="210.5"/>
<line x1="372.2" x2="374.5" y1="284.4" y2="284.4"/>
<line x1="441" x2="441" y1="295.7" y2="298"/>
<line x1="551" x2="551" y1="295.7" y2="298"/>
<line x1="662.5" x2="662.5" y1="295.7" y2="298"/>
</g>
<path d="M448.50 52.10C448.88 52.45 450.15 53.38 450.80 54.20C451.45 55.02 451.92 55.75 452.40 57.00C452.88 58.25 453.13 59.73 453.70 61.70C454.27 63.67 455.22 66.42 455.80 68.80C456.38 71.18 456.30 73.62 457.20 76.00C458.10 78.38 459.53 80.33 461.20 83.10C462.87 85.87 464.78 89.03 467.20 92.60C469.62 96.17 473.45 101.27 475.70 104.50C477.95 107.73 479.22 109.50 480.70 112.00C482.18 114.50 484.27 117.33 484.60 119.50C484.93 121.67 484.18 123.08 482.70 125.00C481.22 126.92 478.15 129.02 475.70 131.00C473.25 132.98 470.53 134.92 468.00 136.90C465.47 138.88 462.33 140.92 460.50 142.90C458.67 144.88 457.88 146.78 457.00 148.80C456.12 150.82 455.90 152.97 455.20 155.00C454.50 157.03 453.63 159.02 452.80 161.00C451.97 162.98 451.18 164.92 450.20 166.90C449.22 168.88 447.80 170.92 446.90 172.90C446.00 174.88 445.35 176.82 444.80 178.80C444.25 180.78 443.88 182.82 443.60 184.80C443.32 186.78 443.30 188.23 443.10 190.70C442.90 193.17 442.64 196.38 442.40 199.60C442.16 202.82 441.77 195.83 441.65 210.00C441.52 224.17 441.80 272.17 441.65 284.60C441.50 297.03 440.90 297.03 440.75 284.60C440.60 272.17 440.88 224.17 440.75 210.00C440.62 195.83 440.24 202.82 440.00 199.60C439.76 196.38 439.50 193.17 439.30 190.70C439.10 188.23 439.08 186.78 438.80 184.80C438.52 182.82 438.15 180.78 437.60 178.80C437.05 176.82 436.40 174.88 435.50 172.90C434.60 170.92 433.18 168.88 432.20 166.90C431.22 164.92 430.43 162.98 429.60 161.00C428.77 159.02 427.90 157.03 427.20 155.00C426.50 152.97 426.28 150.82 425.40 148.80C424.52 146.78 423.73 144.88 421.90 142.90C420.07 140.92 416.93 138.88 414.40 136.90C411.87 134.92 409.15 132.98 406.70 131.00C404.25 129.02 401.18 126.92 399.70 125.00C398.22 123.08 397.47 121.67 397.80 119.50C398.13 117.33 400.22 114.50 401.70 112.00C403.18 109.50 404.45 107.73 406.70 104.50C408.95 101.27 412.78 96.17 415.20 92.60C417.62 89.03 419.53 85.87 421.20 83.10C422.87 80.33 424.30 78.38 425.20 76.00C426.10 73.62 426.02 71.18 426.60 68.80C427.18 66.42 428.13 63.67 428.70 61.70C429.27 59.73 429.52 58.25 430.00 57.00C430.48 55.75 430.95 55.02 431.60 54.20C432.25 53.38 433.52 52.45 433.90 52.10Z" fill="#fff" stroke="#eeaaaa" stroke-width="0.65"/>
<path d="M551.50 51.00C551.82 51.98 552.92 54.73 553.40 56.90C553.88 59.07 554.03 61.62 554.40 64.00C554.77 66.38 555.07 68.82 555.60 71.20C556.13 73.58 556.75 75.92 557.60 78.30C558.45 80.68 559.40 83.12 560.70 85.50C562.00 87.88 563.82 90.22 565.40 92.60C566.98 94.98 568.23 97.42 570.20 99.80C572.17 102.18 575.12 104.87 577.20 106.90C579.28 108.93 580.37 110.30 582.70 112.00C585.03 113.70 589.03 115.57 591.20 117.10C593.37 118.63 594.57 120.00 595.70 121.20C596.83 122.40 597.75 122.80 598.00 124.30C598.25 125.80 597.75 128.50 597.20 130.20C596.65 131.90 595.58 133.38 594.70 134.50C593.82 135.62 592.82 135.50 591.90 136.90C590.98 138.30 590.23 140.92 589.20 142.90C588.17 144.88 586.78 146.82 585.70 148.80C584.62 150.78 584.03 152.82 582.70 154.80C581.37 156.78 579.82 158.68 577.70 160.70C575.58 162.72 572.33 164.87 570.00 166.90C567.67 168.93 565.45 170.92 563.70 172.90C561.95 174.88 560.62 176.82 559.50 178.80C558.38 180.78 557.73 182.82 557.00 184.80C556.27 186.78 555.52 189.00 555.10 190.70C554.68 192.40 554.75 193.52 554.50 195.00C554.25 196.48 553.93 196.65 553.60 199.60C553.27 202.55 552.82 207.80 552.50 212.70C552.18 217.60 551.82 218.62 551.70 229.00C551.58 239.38 551.73 265.73 551.80 275.00C551.87 284.27 552.35 283.00 552.10 284.60C551.85 286.20 550.55 286.20 550.30 284.60C550.05 283.00 550.53 284.27 550.60 275.00C550.67 265.73 550.82 239.38 550.70 229.00C550.58 218.62 550.22 217.60 549.90 212.70C549.58 207.80 549.13 202.55 548.80 199.60C548.47 196.65 548.15 196.48 547.90 195.00C547.65 193.52 547.72 192.40 547.30 190.70C546.88 189.00 546.13 186.78 545.40 184.80C544.67 182.82 544.02 180.78 542.90 178.80C541.78 176.82 540.45 174.88 538.70 172.90C536.95 170.92 534.73 168.93 532.40 166.90C530.07 164.87 526.82 162.72 524.70 160.70C522.58 158.68 521.03 156.78 519.70 154.80C518.37 152.82 517.78 150.78 516.70 148.80C515.62 146.82 514.23 144.88 513.20 142.90C512.17 140.92 511.42 138.30 510.50 136.90C509.58 135.50 508.58 135.62 507.70 134.50C506.82 133.38 505.75 131.90 505.20 130.20C504.65 128.50 504.15 125.80 504.40 124.30C504.65 122.80 505.57 122.40 506.70 121.20C507.83 120.00 509.03 118.63 511.20 117.10C513.37 115.57 517.37 113.70 519.70 112.00C522.03 110.30 523.12 108.93 525.20 106.90C527.28 104.87 530.23 102.18 532.20 99.80C534.17 97.42 535.42 94.98 537.00 92.60C538.58 90.22 540.40 87.88 541.70 85.50C543.00 83.12 543.95 80.68 544.80 78.30C545.65 75.92 546.27 73.58 546.80 71.20C547.33 68.82 547.63 66.38 548.00 64.00C548.37 61.62 548.52 59.07 549.00 56.90C549.48 54.73 550.58 51.98 550.90 51.00Z" fill="#fff" stroke="#98d4a4" stroke-width="0.65"/>
<path d="M664.80 52.10C665.23 52.58 666.65 54.02 667.40 55.00C668.15 55.98 668.58 56.50 669.30 58.00C670.02 59.50 670.87 62.20 671.70 64.00C672.53 65.80 673.65 67.60 674.30 68.80C674.95 70.00 674.82 69.62 675.60 71.20C676.38 72.78 677.77 75.92 679.00 78.30C680.23 80.68 681.60 83.12 683.00 85.50C684.40 87.88 686.07 90.22 687.40 92.60C688.73 94.98 689.67 97.42 691.00 99.80C692.33 102.18 693.85 104.53 695.40 106.90C696.95 109.27 698.98 112.30 700.30 114.00C701.62 115.70 702.85 115.90 703.30 117.10C703.75 118.30 703.27 119.88 703.00 121.20C702.73 122.52 702.70 123.37 701.70 125.00C700.70 126.63 698.65 129.02 697.00 131.00C695.35 132.98 693.55 134.92 691.80 136.90C690.05 138.88 688.27 140.92 686.50 142.90C684.73 144.88 682.72 146.78 681.20 148.80C679.68 150.82 678.80 152.97 677.40 155.00C676.00 157.03 674.10 159.02 672.80 161.00C671.50 162.98 670.53 164.92 669.60 166.90C668.67 168.88 667.80 170.92 667.20 172.90C666.60 174.88 666.30 176.82 666.00 178.80C665.70 180.78 665.60 182.82 665.40 184.80C665.20 186.78 665.03 188.17 664.80 190.70C664.57 193.23 664.27 197.12 664.00 200.00C663.73 202.88 663.48 205.83 663.20 208.00C662.92 210.17 662.45 202.67 662.30 213.00C662.15 223.33 662.18 258.83 662.30 270.00C662.42 281.17 662.80 277.57 663.00 280.00C663.20 282.43 663.98 283.83 663.50 284.60C663.02 285.37 660.58 285.37 660.10 284.60C659.62 283.83 660.40 282.43 660.60 280.00C660.80 277.57 661.18 281.17 661.30 270.00C661.42 258.83 661.45 223.33 661.30 213.00C661.15 202.67 660.68 210.17 660.40 208.00C660.12 205.83 659.87 202.88 659.60 200.00C659.33 197.12 659.03 193.23 658.80 190.70C658.57 188.17 658.40 186.78 658.20 184.80C658.00 182.82 657.90 180.78 657.60 178.80C657.30 176.82 657.00 174.88 656.40 172.90C655.80 170.92 654.93 168.88 654.00 166.90C653.07 164.92 652.10 162.98 650.80 161.00C649.50 159.02 647.60 157.03 646.20 155.00C644.80 152.97 643.92 150.82 642.40 148.80C640.88 146.78 638.87 144.88 637.10 142.90C635.33 140.92 633.55 138.88 631.80 136.90C630.05 134.92 628.25 132.98 626.60 131.00C624.95 129.02 622.90 126.63 621.90 125.00C620.90 123.37 620.87 122.52 620.60 121.20C620.33 119.88 619.85 118.30 620.30 117.10C620.75 115.90 621.98 115.70 623.30 114.00C624.62 112.30 626.65 109.27 628.20 106.90C629.75 104.53 631.27 102.18 632.60 99.80C633.93 97.42 634.87 94.98 636.20 92.60C637.53 90.22 639.20 87.88 640.60 85.50C642.00 83.12 643.37 80.68 644.60 78.30C645.83 75.92 647.22 72.78 648.00 71.20C648.78 69.62 648.65 70.00 649.30 68.80C649.95 67.60 651.07 65.80 651.90 64.00C652.73 62.20 653.58 59.50 654.30 58.00C655.02 56.50 655.45 55.98 656.20 55.00C656.95 54.02 658.37 52.58 658.80 52.10Z" fill="#fff" stroke="#aec8ee" stroke-width="0.65"/>
<g fill="#e0605c"><circle cx="449.3" cy="109.8" r="1.0"/><circle cx="442.9" cy="111.4" r="1.0"/><circle cx="433.5" cy="131.0" r="1.0"/><circle cx="447.1" cy="92.1" r="1.0"/><circle cx="450.4" cy="138.5" r="1.0"/><circle cx="432.0" cy="129.3" r="1.0"/><circle cx="435.3" cy="118.9" r="1.0"/><circle cx="440.5" cy="84.8" r="1.0"/><circle cx="441.6" cy="108.4" r="1.0"/><circle cx="444.3" cy="132.2" r="1.0"/><circle cx="450.7" cy="110.4" r="1.0"/><circle cx="436.1" cy="140.2" r="1.0"/><circle cx="446.3" cy="90.4" r="1.0"/><circle cx="439.0" cy="103.6" r="1.0"/><circle cx="450.3" cy="164.3" r="1.0"/><circle cx="443.7" cy="103.3" r="1.0"/><circle cx="433.4" cy="148.6" r="1.0"/><circle cx="446.1" cy="95.6" r="1.0"/><circle cx="433.6" cy="70.0" r="1.0"/><circle cx="445.6" cy="109.2" r="1.0"/><circle cx="435.7" cy="69.9" r="1.0"/><circle cx="448.5" cy="151.6" r="1.0"/><circle cx="433.6" cy="157.7" r="1.0"/><circle cx="433.1" cy="95.1" r="1.0"/><circle cx="436.3" cy="66.7" r="1.0"/><circle cx="440.3" cy="127.6" r="1.0"/><circle cx="442.6" cy="170.1" r="1.0"/><circle cx="434.6" cy="159.1" r="1.0"/><circle cx="445.7" cy="85.7" r="1.0"/><circle cx="449.8" cy="167.9" r="1.0"/><circle cx="432.4" cy="106.2" r="1.0"/><circle cx="445.1" cy="170.6" r="1.0"/><circle cx="435.0" cy="127.0" r="1.0"/><circle cx="436.0" cy="141.7" r="1.0"/><circle cx="443.4" cy="122.6" r="1.0"/><circle cx="436.8" cy="80.3" r="1.0"/><circle cx="435.0" cy="109.0" r="1.0"/><circle cx="434.2" cy="99.9" r="1.0"/><circle cx="450.3" cy="99.1" r="1.0"/><circle cx="442.8" cy="134.2" r="1.0"/><circle cx="432.0" cy="72.7" r="1.0"/><circle cx="443.8" cy="170.6" r="1.0"/><circle cx="437.8" cy="113.4" r="1.0"/><circle cx="448.8" cy="121.0" r="1.0"/><circle cx="446.8" cy="143.7" r="1.0"/><circle cx="444.7" cy="164.9" r="1.0"/><circle cx="448.1" cy="105.6" r="1.0"/><circle cx="439.0" cy="124.2" r="1.0"/><circle cx="433.2" cy="125.3" r="1.0"/><circle cx="448.4" cy="132.1" r="1.0"/><circle cx="445.7" cy="142.7" r="1.0"/><circle cx="447.6" cy="125.1" r="1.0"/><circle cx="440.8" cy="59.5" r="1.0"/><circle cx="449.2" cy="115.2" r="1.0"/><circle cx="437.4" cy="86.4" r="1.0"/><circle cx="434.9" cy="136.7" r="1.0"/><circle cx="437.9" cy="108.6" r="1.0"/><circle cx="439.9" cy="135.2" r="1.0"/><circle cx="448.4" cy="151.9" r="1.0"/><circle cx="437.7" cy="101.7" r="1.0"/><circle cx="445.2" cy="155.6" r="1.0"/><circle cx="434.9" cy="169.1" r="1.0"/><circle cx="435.8" cy="109.6" r="1.0"/><circle cx="441.1" cy="105.3" r="1.0"/><circle cx="450.4" cy="93.5" r="1.0"/><circle cx="432.3" cy="109.8" r="1.0"/><circle cx="445.2" cy="159.9" r="1.0"/><circle cx="446.7" cy="123.9" r="1.0"/><circle cx="440.3" cy="58.3" r="1.0"/><circle cx="432.6" cy="84.3" r="1.0"/><circle cx="443.7" cy="130.9" r="1.0"/><circle cx="449.9" cy="134.0" r="1.0"/><circle cx="440.7" cy="137.5" r="1.0"/><circle cx="440.7" cy="77.3" r="1.0"/><circle cx="436.9" cy="141.0" r="1.0"/><circle cx="441.6" cy="97.1" r="1.0"/><circle cx="439.2" cy="129.1" r="1.0"/><circle cx="433.4" cy="150.2" r="1.0"/><circle cx="438.9" cy="130.4" r="1.0"/><circle cx="446.8" cy="123.7" r="1.0"/><circle cx="444.1" cy="168.4" r="1.0"/><circle cx="445.3" cy="153.4" r="1.0"/><circle cx="437.8" cy="119.9" r="1.0"/><circle cx="440.1" cy="97.5" r="1.0"/><circle cx="441.0" cy="121.5" r="1.0"/><circle cx="446.7" cy="76.6" r="1.0"/><circle cx="441.5" cy="72.7" r="1.0"/><circle cx="444.8" cy="142.1" r="1.0"/><circle cx="449.7" cy="168.5" r="1.0"/><circle cx="441.7" cy="66.2" r="1.0"/><circle cx="447.7" cy="132.0" r="1.0"/><circle cx="438.9" cy="122.6" r="1.0"/><circle cx="435.7" cy="156.6" r="1.0"/><circle cx="441.7" cy="157.2" r="1.0"/><circle cx="441.9" cy="124.2" r="1.0"/><circle cx="432.2" cy="115.9" r="1.0"/><circle cx="442.4" cy="103.7" r="1.0"/><circle cx="433.0" cy="114.4" r="1.0"/><circle cx="449.9" cy="120.1" r="1.0"/><circle cx="440.7" cy="165.9" r="1.0"/><circle cx="440.8" cy="153.1" r="1.0"/><circle cx="443.4" cy="93.7" r="1.0"/><circle cx="446.5" cy="166.1" r="1.0"/><circle cx="436.0" cy="58.7" r="1.0"/><circle cx="438.5" cy="137.8" r="1.0"/><circle cx="445.6" cy="129.8" r="1.0"/><circle cx="441.8" cy="85.8" r="1.0"/><circle cx="439.6" cy="108.0" r="1.0"/><circle cx="435.6" cy="119.0" r="1.0"/><circle cx="441.8" cy="131.1" r="1.0"/><circle cx="448.0" cy="157.3" r="1.0"/><circle cx="437.7" cy="152.5" r="1.0"/><circle cx="435.8" cy="93.5" r="1.0"/><circle cx="445.5" cy="71.9" r="1.0"/><circle cx="447.5" cy="86.9" r="1.0"/><circle cx="434.1" cy="106.2" r="1.0"/><circle cx="432.0" cy="103.9" r="1.0"/><circle cx="446.1" cy="69.7" r="1.0"/><circle cx="435.3" cy="115.8" r="1.0"/><circle cx="432.4" cy="64.4" r="1.0"/><circle cx="442.5" cy="121.6" r="1.0"/><circle cx="435.6" cy="73.4" r="1.0"/><circle cx="449.3" cy="156.0" r="1.0"/><circle cx="449.8" cy="67.3" r="1.0"/><circle cx="437.9" cy="111.0" r="1.0"/><circle cx="439.9" cy="111.6" r="1.0"/><circle cx="445.0" cy="127.5" r="1.0"/><circle cx="440.3" cy="156.5" r="1.0"/><circle cx="435.4" cy="144.0" r="1.0"/><circle cx="448.1" cy="151.4" r="1.0"/><circle cx="443.1" cy="130.9" r="1.0"/><circle cx="447.0" cy="116.0" r="1.0"/><circle cx="447.2" cy="144.6" r="1.0"/><circle cx="448.4" cy="104.3" r="1.0"/><circle cx="446.2" cy="138.7" r="1.0"/><circle cx="433.0" cy="104.3" r="1.0"/><circle cx="431.9" cy="96.7" r="1.0"/><circle cx="443.6" cy="98.3" r="1.0"/><circle cx="444.2" cy="135.3" r="1.0"/><circle cx="439.1" cy="123.8" r="1.0"/><circle cx="450.3" cy="139.4" r="1.0"/><circle cx="445.7" cy="58.7" r="1.0"/><circle cx="438.8" cy="62.0" r="1.0"/><circle cx="448.9" cy="67.7" r="1.0"/><circle cx="450.1" cy="121.5" r="1.0"/><circle cx="443.8" cy="123.6" r="1.0"/><circle cx="443.1" cy="152.3" r="1.0"/><circle cx="449.4" cy="146.4" r="1.0"/><circle cx="449.7" cy="128.7" r="1.0"/><circle cx="443.1" cy="106.1" r="1.0"/><circle cx="444.1" cy="99.5" r="1.0"/><circle cx="445.3" cy="122.7" r="1.0"/><circle cx="436.4" cy="91.2" r="1.0"/><circle cx="446.0" cy="61.1" r="1.0"/><circle cx="445.9" cy="102.4" r="1.0"/><circle cx="448.9" cy="168.4" r="1.0"/><circle cx="450.2" cy="107.1" r="1.0"/><circle cx="447.2" cy="111.7" r="1.0"/><circle cx="443.6" cy="127.8" r="1.0"/><circle cx="432.7" cy="110.2" r="1.0"/><circle cx="440.1" cy="118.8" r="1.0"/><circle cx="436.7" cy="135.5" r="1.0"/><circle cx="446.5" cy="125.3" r="1.0"/><circle cx="449.8" cy="119.2" r="1.0"/><circle cx="433.9" cy="143.4" r="1.0"/><circle cx="436.9" cy="130.4" r="1.0"/><circle cx="442.9" cy="137.5" r="1.0"/><circle cx="435.3" cy="131.3" r="1.0"/><circle cx="436.8" cy="60.7" r="1.0"/><circle cx="433.6" cy="106.6" r="1.0"/><circle cx="433.3" cy="120.5" r="1.0"/><circle cx="443.7" cy="136.5" r="1.0"/><circle cx="435.7" cy="100.4" r="1.0"/><circle cx="447.6" cy="96.9" r="1.0"/><circle cx="447.1" cy="64.8" r="1.0"/><circle cx="435.8" cy="130.2" r="1.0"/><circle cx="447.1" cy="106.5" r="1.0"/><circle cx="450.5" cy="99.9" r="1.0"/><circle cx="445.9" cy="94.7" r="1.0"/><circle cx="438.7" cy="165.6" r="1.0"/><circle cx="442.4" cy="65.3" r="1.0"/><circle cx="437.4" cy="113.7" r="1.0"/><circle cx="435.8" cy="148.3" r="1.0"/><circle cx="437.5" cy="134.8" r="1.0"/><circle cx="437.1" cy="142.3" r="1.0"/><circle cx="433.9" cy="142.4" r="1.0"/><circle cx="449.2" cy="140.4" r="1.0"/><circle cx="437.5" cy="108.1" r="1.0"/><circle cx="449.5" cy="93.8" r="1.0"/><circle cx="438.6" cy="162.5" r="1.0"/><circle cx="433.0" cy="186.5" r="1.0"/><circle cx="437.2" cy="201.2" r="1.0"/><circle cx="443.1" cy="196.3" r="1.0"/><circle cx="433.0" cy="241.1" r="1.0"/><circle cx="439.5" cy="272.2" r="1.0"/><circle cx="440.5" cy="284.6" r="1.0"/><circle cx="447.8" cy="174.0" r="1.0"/><circle cx="449.0" cy="179.4" r="1.0"/><circle cx="433.6" cy="176.2" r="1.0"/><circle cx="446.5" cy="52.5" r="1.0"/></g>
<g fill="#29a347"><circle cx="542.1" cy="176.8" r="1.0"/><circle cx="545.3" cy="131.1" r="1.0"/><circle cx="559.5" cy="163.4" r="1.0"/><circle cx="552.5" cy="154.0" r="1.0"/><circle cx="546.6" cy="144.6" r="1.0"/><circle cx="556.5" cy="176.6" r="1.0"/><circle cx="542.6" cy="140.8" r="1.0"/><circle cx="559.3" cy="123.9" r="1.0"/><circle cx="549.5" cy="120.8" r="1.0"/><circle cx="547.5" cy="140.0" r="1.0"/><circle cx="554.5" cy="125.3" r="1.0"/><circle cx="560.6" cy="123.5" r="1.0"/><circle cx="549.4" cy="102.1" r="1.0"/><circle cx="543.5" cy="121.5" r="1.0"/><circle cx="552.1" cy="169.0" r="1.0"/><circle cx="548.5" cy="101.3" r="1.0"/><circle cx="551.9" cy="81.7" r="1.0"/><circle cx="545.5" cy="156.7" r="1.0"/><circle cx="549.5" cy="144.0" r="1.0"/><circle cx="550.5" cy="160.7" r="1.0"/><circle cx="551.7" cy="163.0" r="1.0"/><circle cx="555.8" cy="130.5" r="1.0"/><circle cx="553.9" cy="116.7" r="1.0"/><circle cx="559.6" cy="159.7" r="1.0"/><circle cx="545.0" cy="136.7" r="1.0"/><circle cx="546.8" cy="143.8" r="1.0"/><circle cx="545.8" cy="101.7" r="1.0"/><circle cx="557.5" cy="149.1" r="1.0"/><circle cx="545.6" cy="163.3" r="1.0"/><circle cx="556.0" cy="118.8" r="1.0"/><circle cx="546.4" cy="147.0" r="1.0"/><circle cx="551.2" cy="138.1" r="1.0"/><circle cx="550.9" cy="132.9" r="1.0"/><circle cx="556.9" cy="137.4" r="1.0"/><circle cx="547.0" cy="121.6" r="1.0"/><circle cx="557.2" cy="121.2" r="1.0"/><circle cx="554.2" cy="152.4" r="1.0"/><circle cx="553.1" cy="127.2" r="1.0"/><circle cx="542.1" cy="123.4" r="1.0"/><circle cx="543.6" cy="158.0" r="1.0"/><circle cx="559.0" cy="120.6" r="1.0"/><circle cx="560.1" cy="149.7" r="1.0"/><circle cx="547.0" cy="138.9" r="1.0"/><circle cx="559.3" cy="87.6" r="1.0"/><circle cx="547.7" cy="95.0" r="1.0"/><circle cx="548.4" cy="117.1" r="1.0"/><circle cx="552.0" cy="158.8" r="1.0"/><circle cx="559.8" cy="104.5" r="1.0"/><circle cx="544.1" cy="121.8" r="1.0"/><circle cx="560.6" cy="75.2" r="1.0"/><circle cx="550.8" cy="159.7" r="1.0"/><circle cx="543.0" cy="157.4" r="1.0"/><circle cx="559.1" cy="100.1" r="1.0"/><circle cx="553.7" cy="130.3" r="1.0"/><circle cx="548.6" cy="158.2" r="1.0"/><circle cx="543.3" cy="93.5" r="1.0"/><circle cx="550.7" cy="154.5" r="1.0"/><circle cx="542.1" cy="136.9" r="1.0"/><circle cx="548.1" cy="143.4" r="1.0"/><circle cx="558.2" cy="160.1" r="1.0"/><circle cx="551.8" cy="155.0" r="1.0"/><circle cx="553.1" cy="142.6" r="1.0"/><circle cx="549.6" cy="130.0" r="1.0"/><circle cx="544.2" cy="146.5" r="1.0"/><circle cx="550.1" cy="90.4" r="1.0"/><circle cx="559.6" cy="158.3" r="1.0"/><circle cx="543.6" cy="121.0" r="1.0"/><circle cx="551.2" cy="79.8" r="1.0"/><circle cx="552.7" cy="113.9" r="1.0"/><circle cx="544.0" cy="164.5" r="1.0"/><circle cx="553.6" cy="125.1" r="1.0"/><circle cx="557.0" cy="148.8" r="1.0"/><circle cx="548.2" cy="108.5" r="1.0"/><circle cx="558.9" cy="127.5" r="1.0"/><circle cx="559.8" cy="124.7" r="1.0"/><circle cx="553.5" cy="105.7" r="1.0"/><circle cx="547.2" cy="164.0" r="1.0"/><circle cx="544.9" cy="134.0" r="1.0"/><circle cx="542.1" cy="114.4" r="1.0"/><circle cx="553.7" cy="151.9" r="1.0"/><circle cx="543.2" cy="148.8" r="1.0"/><circle cx="545.3" cy="116.1" r="1.0"/><circle cx="558.8" cy="106.4" r="1.0"/><circle cx="558.8" cy="149.4" r="1.0"/><circle cx="558.5" cy="158.4" r="1.0"/><circle cx="544.5" cy="117.3" r="1.0"/><circle cx="548.3" cy="160.9" r="1.0"/><circle cx="544.5" cy="101.7" r="1.0"/><circle cx="558.6" cy="139.5" r="1.0"/><circle cx="556.3" cy="117.7" r="1.0"/><circle cx="544.0" cy="100.8" r="1.0"/><circle cx="555.1" cy="149.2" r="1.0"/><circle cx="547.5" cy="92.2" r="1.0"/><circle cx="550.9" cy="86.2" r="1.0"/><circle cx="549.6" cy="130.5" r="1.0"/><circle cx="555.4" cy="153.3" r="1.0"/><circle cx="551.0" cy="142.9" r="1.0"/><circle cx="544.3" cy="115.5" r="1.0"/><circle cx="547.8" cy="121.7" r="1.0"/><circle cx="544.1" cy="120.4" r="1.0"/><circle cx="554.8" cy="131.9" r="1.0"/><circle cx="542.2" cy="121.0" r="1.0"/><circle cx="549.7" cy="104.8" r="1.0"/><circle cx="543.8" cy="161.4" r="1.0"/><circle cx="549.1" cy="119.8" r="1.0"/><circle cx="558.1" cy="132.2" r="1.0"/><circle cx="546.9" cy="103.1" r="1.0"/><circle cx="546.8" cy="153.1" r="1.0"/><circle cx="551.1" cy="152.3" r="1.0"/><circle cx="551.7" cy="159.3" r="1.0"/><circle cx="548.4" cy="154.6" r="1.0"/><circle cx="554.7" cy="117.9" r="1.0"/><circle cx="551.9" cy="125.6" r="1.0"/><circle cx="549.7" cy="131.7" r="1.0"/><circle cx="558.9" cy="152.7" r="1.0"/><circle cx="555.1" cy="148.2" r="1.0"/><circle cx="542.0" cy="128.7" r="1.0"/><circle cx="555.4" cy="140.0" r="1.0"/><circle cx="554.7" cy="152.1" r="1.0"/><circle cx="545.1" cy="115.9" r="1.0"/><circle cx="543.4" cy="122.8" r="1.0"/><circle cx="556.6" cy="121.8" r="1.0"/><circle cx="551.4" cy="74.1" r="1.0"/><circle cx="558.1" cy="164.9" r="1.0"/><circle cx="560.4" cy="149.6" r="1.0"/><circle cx="551.5" cy="159.3" r="1.0"/><circle cx="546.1" cy="125.5" r="1.0"/><circle cx="545.2" cy="129.5" r="1.0"/><circle cx="552.2" cy="113.8" r="1.0"/><circle cx="548.5" cy="102.0" r="1.0"/><circle cx="547.6" cy="107.5" r="1.0"/><circle cx="553.6" cy="141.5" r="1.0"/><circle cx="551.8" cy="123.0" r="1.0"/><circle cx="550.2" cy="139.2" r="1.0"/><circle cx="551.3" cy="84.5" r="1.0"/><circle cx="551.6" cy="151.0" r="1.0"/><circle cx="546.1" cy="132.0" r="1.0"/><circle cx="547.5" cy="69.4" r="1.0"/><circle cx="552.4" cy="130.4" r="1.0"/><circle cx="544.7" cy="162.1" r="1.0"/><circle cx="543.6" cy="104.8" r="1.0"/><circle cx="551.2" cy="128.3" r="1.0"/><circle cx="548.0" cy="144.5" r="1.0"/><circle cx="555.3" cy="137.1" r="1.0"/><circle cx="555.0" cy="137.9" r="1.0"/><circle cx="545.0" cy="134.4" r="1.0"/><circle cx="551.0" cy="120.3" r="1.0"/><circle cx="550.2" cy="146.7" r="1.0"/><circle cx="556.9" cy="136.4" r="1.0"/><circle cx="542.3" cy="117.9" r="1.0"/><circle cx="557.5" cy="134.0" r="1.0"/><circle cx="554.8" cy="70.8" r="1.0"/><circle cx="557.6" cy="135.4" r="1.0"/><circle cx="547.2" cy="164.4" r="1.0"/><circle cx="558.5" cy="121.9" r="1.0"/><circle cx="556.2" cy="117.3" r="1.0"/><circle cx="548.9" cy="156.4" r="1.0"/><circle cx="551.8" cy="138.0" r="1.0"/><circle cx="550.8" cy="165.7" r="1.0"/><circle cx="549.6" cy="131.2" r="1.0"/><circle cx="557.7" cy="120.7" r="1.0"/><circle cx="551.8" cy="151.2" r="1.0"/><circle cx="554.4" cy="136.3" r="1.0"/><circle cx="547.0" cy="146.9" r="1.0"/><circle cx="559.3" cy="119.7" r="1.0"/><circle cx="552.6" cy="151.9" r="1.0"/><circle cx="548.8" cy="104.3" r="1.0"/><circle cx="555.9" cy="116.0" r="1.0"/><circle cx="556.8" cy="164.4" r="1.0"/><circle cx="541.7" cy="154.0" r="1.0"/><circle cx="545.1" cy="164.4" r="1.0"/><circle cx="551.9" cy="151.1" r="1.0"/><circle cx="544.2" cy="119.9" r="1.0"/><circle cx="555.0" cy="64.3" r="1.0"/><circle cx="542.6" cy="115.3" r="1.0"/><circle cx="549.9" cy="154.3" r="1.0"/><circle cx="546.3" cy="118.3" r="1.0"/><circle cx="544.7" cy="113.5" r="1.0"/><circle cx="558.0" cy="169.7" r="1.0"/><circle cx="551.0" cy="117.9" r="1.0"/><circle cx="545.3" cy="158.0" r="1.0"/><circle cx="541.8" cy="107.0" r="1.0"/><circle cx="557.0" cy="156.3" r="1.0"/><circle cx="546.6" cy="144.2" r="1.0"/><circle cx="560.0" cy="145.8" r="1.0"/><circle cx="556.4" cy="112.9" r="1.0"/><circle cx="546.4" cy="156.8" r="1.0"/><circle cx="544.7" cy="148.6" r="1.0"/><circle cx="553.4" cy="132.2" r="1.0"/><circle cx="555.4" cy="124.3" r="1.0"/><circle cx="541.9" cy="142.1" r="1.0"/><circle cx="551.3" cy="124.0" r="1.0"/><circle cx="556.2" cy="119.1" r="1.0"/><circle cx="556.9" cy="136.4" r="1.0"/><circle cx="556.7" cy="104.4" r="1.0"/><circle cx="555.0" cy="139.2" r="1.0"/><circle cx="547.6" cy="127.7" r="1.0"/><circle cx="551.2" cy="160.8" r="1.0"/><circle cx="553.7" cy="158.9" r="1.0"/><circle cx="548.7" cy="122.6" r="1.0"/><circle cx="549.6" cy="174.0" r="1.0"/><circle cx="542.2" cy="113.7" r="1.0"/><circle cx="542.0" cy="146.7" r="1.0"/><circle cx="550.5" cy="155.1" r="1.0"/><circle cx="559.3" cy="131.8" r="1.0"/><circle cx="550.4" cy="124.2" r="1.0"/><circle cx="542.4" cy="174.7" r="1.0"/><circle cx="549.9" cy="135.5" r="1.0"/><circle cx="557.2" cy="139.4" r="1.0"/><circle cx="546.2" cy="125.3" r="1.0"/><circle cx="559.6" cy="140.9" r="1.0"/><circle cx="550.5" cy="147.3" r="1.0"/><circle cx="547.7" cy="140.6" r="1.0"/><circle cx="558.9" cy="160.4" r="1.0"/><circle cx="544.0" cy="159.1" r="1.0"/><circle cx="557.2" cy="143.7" r="1.0"/><circle cx="544.4" cy="113.2" r="1.0"/><circle cx="557.1" cy="151.7" r="1.0"/><circle cx="544.9" cy="154.1" r="1.0"/><circle cx="555.7" cy="129.8" r="1.0"/><circle cx="553.8" cy="167.2" r="1.0"/><circle cx="554.1" cy="122.8" r="1.0"/><circle cx="546.8" cy="125.1" r="1.0"/><circle cx="542.1" cy="105.2" r="1.0"/><circle cx="550.5" cy="119.4" r="1.0"/><circle cx="546.8" cy="107.6" r="1.0"/><circle cx="548.6" cy="111.2" r="1.0"/><circle cx="549.1" cy="136.9" r="1.0"/><circle cx="547.5" cy="104.8" r="1.0"/><circle cx="551.8" cy="147.8" r="1.0"/><circle cx="545.0" cy="136.4" r="1.0"/><circle cx="555.3" cy="139.4" r="1.0"/><circle cx="549.8" cy="127.2" r="1.0"/><circle cx="558.3" cy="142.9" r="1.0"/><circle cx="542.2" cy="148.4" r="1.0"/><circle cx="542.0" cy="168.2" r="1.0"/><circle cx="546.3" cy="100.0" r="1.0"/><circle cx="554.6" cy="118.2" r="1.0"/><circle cx="560.4" cy="134.1" r="1.0"/><circle cx="555.8" cy="102.5" r="1.0"/><circle cx="558.5" cy="139.4" r="1.0"/><circle cx="547.7" cy="175.6" r="1.0"/><circle cx="548.8" cy="144.4" r="1.0"/><circle cx="547.2" cy="144.9" r="1.0"/><circle cx="554.0" cy="130.9" r="1.0"/><circle cx="556.9" cy="124.5" r="1.0"/><circle cx="559.4" cy="162.2" r="1.0"/><circle cx="556.2" cy="117.5" r="1.0"/><circle cx="543.5" cy="115.3" r="1.0"/><circle cx="542.7" cy="154.3" r="1.0"/><circle cx="554.5" cy="144.6" r="1.0"/><circle cx="552.5" cy="150.9" r="1.0"/><circle cx="542.3" cy="134.1" r="1.0"/><circle cx="543.4" cy="157.8" r="1.0"/><circle cx="547.8" cy="169.3" r="1.0"/><circle cx="556.0" cy="112.0" r="1.0"/><circle cx="547.0" cy="67.3" r="1.0"/><circle cx="557.6" cy="159.1" r="1.0"/><circle cx="557.3" cy="127.3" r="1.0"/><circle cx="551.8" cy="159.4" r="1.0"/><circle cx="555.9" cy="144.9" r="1.0"/><circle cx="550.1" cy="128.6" r="1.0"/><circle cx="555.4" cy="119.6" r="1.0"/><circle cx="555.6" cy="138.6" r="1.0"/><circle cx="554.2" cy="126.8" r="1.0"/><circle cx="549.0" cy="172.6" r="1.0"/><circle cx="558.7" cy="140.7" r="1.0"/><circle cx="543.6" cy="108.6" r="1.0"/><circle cx="547.2" cy="139.5" r="1.0"/><circle cx="552.7" cy="114.2" r="1.0"/><circle cx="554.6" cy="131.1" r="1.0"/><circle cx="553.5" cy="163.9" r="1.0"/><circle cx="549.9" cy="94.5" r="1.0"/><circle cx="545.6" cy="145.9" r="1.0"/><circle cx="557.2" cy="176.0" r="1.0"/><circle cx="550.3" cy="126.1" r="1.0"/><circle cx="560.1" cy="170.1" r="1.0"/><circle cx="542.4" cy="144.2" r="1.0"/><circle cx="544.8" cy="119.9" r="1.0"/><circle cx="545.3" cy="79.6" r="1.0"/><circle cx="547.2" cy="181.6" r="1.0"/><circle cx="554.4" cy="184.9" r="1.0"/><circle cx="556.0" cy="191.4" r="1.0"/><circle cx="557.7" cy="193.0" r="1.0"/><circle cx="547.2" cy="212.0" r="1.0"/><circle cx="552.8" cy="215.3" r="1.0"/><circle cx="556.0" cy="208.8" r="1.0"/><circle cx="549.5" cy="284.6" r="1.0"/><circle cx="555.5" cy="62.0" r="1.0"/><circle cx="553.5" cy="64.0" r="1.0"/><circle cx="557.0" cy="63.0" r="1.0"/></g>
<g fill="#5a8edc"><circle cx="667.3" cy="125.9" r="1.0"/><circle cx="670.1" cy="131.8" r="1.0"/><circle cx="669.7" cy="120.6" r="1.0"/><circle cx="658.0" cy="134.1" r="1.0"/><circle cx="663.5" cy="116.5" r="1.0"/><circle cx="667.9" cy="146.7" r="1.0"/><circle cx="653.3" cy="139.9" r="1.0"/><circle cx="656.2" cy="177.5" r="1.0"/><circle cx="656.8" cy="69.5" r="1.0"/><circle cx="662.0" cy="88.4" r="1.0"/><circle cx="655.7" cy="92.3" r="1.0"/><circle cx="668.4" cy="67.9" r="1.0"/><circle cx="654.6" cy="148.2" r="1.0"/><circle cx="658.1" cy="72.8" r="1.0"/><circle cx="656.0" cy="61.3" r="1.0"/><circle cx="658.9" cy="111.7" r="1.0"/><circle cx="658.0" cy="121.9" r="1.0"/><circle cx="654.3" cy="101.8" r="1.0"/><circle cx="662.3" cy="164.0" r="1.0"/><circle cx="668.7" cy="109.9" r="1.0"/><circle cx="661.4" cy="142.5" r="1.0"/><circle cx="653.9" cy="131.1" r="1.0"/><circle cx="660.8" cy="129.8" r="1.0"/><circle cx="657.1" cy="107.2" r="1.0"/><circle cx="659.6" cy="114.7" r="1.0"/><circle cx="654.2" cy="155.2" r="1.0"/><circle cx="663.8" cy="132.4" r="1.0"/><circle cx="667.6" cy="149.8" r="1.0"/><circle cx="669.3" cy="108.7" r="1.0"/><circle cx="667.9" cy="127.9" r="1.0"/><circle cx="656.5" cy="132.8" r="1.0"/><circle cx="663.0" cy="65.6" r="1.0"/><circle cx="655.8" cy="126.2" r="1.0"/><circle cx="669.3" cy="173.7" r="1.0"/><circle cx="670.6" cy="151.3" r="1.0"/><circle cx="669.6" cy="139.7" r="1.0"/><circle cx="667.3" cy="106.1" r="1.0"/><circle cx="652.7" cy="71.4" r="1.0"/><circle cx="656.5" cy="152.4" r="1.0"/><circle cx="668.3" cy="154.7" r="1.0"/><circle cx="652.4" cy="159.3" r="1.0"/><circle cx="658.4" cy="95.2" r="1.0"/><circle cx="660.6" cy="96.7" r="1.0"/><circle cx="656.0" cy="79.5" r="1.0"/><circle cx="659.9" cy="70.2" r="1.0"/><circle cx="664.1" cy="122.6" r="1.0"/><circle cx="653.7" cy="83.6" r="1.0"/><circle cx="656.9" cy="96.5" r="1.0"/><circle cx="665.6" cy="102.3" r="1.0"/><circle cx="655.2" cy="82.3" r="1.0"/><circle cx="654.5" cy="177.3" r="1.0"/><circle cx="667.2" cy="174.5" r="1.0"/><circle cx="666.9" cy="59.2" r="1.0"/><circle cx="659.4" cy="119.0" r="1.0"/><circle cx="663.8" cy="164.4" r="1.0"/><circle cx="668.5" cy="77.8" r="1.0"/><circle cx="657.5" cy="108.2" r="1.0"/><circle cx="663.8" cy="146.0" r="1.0"/><circle cx="654.1" cy="109.9" r="1.0"/><circle cx="656.3" cy="150.8" r="1.0"/><circle cx="659.4" cy="58.2" r="1.0"/><circle cx="660.1" cy="114.1" r="1.0"/><circle cx="654.8" cy="149.5" r="1.0"/><circle cx="669.2" cy="119.8" r="1.0"/><circle cx="668.4" cy="125.7" r="1.0"/><circle cx="663.1" cy="120.9" r="1.0"/><circle cx="661.4" cy="153.6" r="1.0"/><circle cx="662.2" cy="117.8" r="1.0"/><circle cx="660.7" cy="122.5" r="1.0"/><circle cx="657.0" cy="169.4" r="1.0"/><circle cx="660.6" cy="155.3" r="1.0"/><circle cx="663.4" cy="157.7" r="1.0"/><circle cx="652.9" cy="98.2" r="1.0"/><circle cx="657.5" cy="93.9" r="1.0"/><circle cx="663.7" cy="157.8" r="1.0"/><circle cx="664.3" cy="158.2" r="1.0"/><circle cx="654.4" cy="98.2" r="1.0"/><circle cx="652.9" cy="153.4" r="1.0"/><circle cx="660.0" cy="144.3" r="1.0"/><circle cx="658.8" cy="108.6" r="1.0"/><circle cx="653.4" cy="86.1" r="1.0"/><circle cx="657.1" cy="147.0" r="1.0"/><circle cx="655.6" cy="108.4" r="1.0"/><circle cx="667.2" cy="70.6" r="1.0"/><circle cx="657.8" cy="100.9" r="1.0"/><circle cx="658.0" cy="95.0" r="1.0"/><circle cx="662.1" cy="128.6" r="1.0"/><circle cx="668.3" cy="127.5" r="1.0"/><circle cx="663.8" cy="105.9" r="1.0"/><circle cx="662.1" cy="90.4" r="1.0"/><circle cx="663.9" cy="149.7" r="1.0"/><circle cx="665.6" cy="78.1" r="1.0"/><circle cx="666.2" cy="175.6" r="1.0"/><circle cx="655.5" cy="97.7" r="1.0"/><circle cx="662.6" cy="137.8" r="1.0"/><circle cx="666.4" cy="147.6" r="1.0"/><circle cx="663.9" cy="123.3" r="1.0"/><circle cx="665.4" cy="135.7" r="1.0"/><circle cx="663.7" cy="147.9" r="1.0"/><circle cx="659.0" cy="101.9" r="1.0"/><circle cx="668.8" cy="158.4" r="1.0"/><circle cx="664.1" cy="116.8" r="1.0"/><circle cx="654.9" cy="168.6" r="1.0"/><circle cx="666.9" cy="158.8" r="1.0"/><circle cx="662.4" cy="59.9" r="1.0"/><circle cx="665.0" cy="149.5" r="1.0"/><circle cx="661.9" cy="99.3" r="1.0"/><circle cx="655.9" cy="98.2" r="1.0"/><circle cx="666.7" cy="136.0" r="1.0"/><circle cx="662.6" cy="144.1" r="1.0"/><circle cx="660.2" cy="131.4" r="1.0"/><circle cx="659.0" cy="103.4" r="1.0"/><circle cx="654.4" cy="165.6" r="1.0"/><circle cx="652.7" cy="96.2" r="1.0"/><circle cx="669.7" cy="75.9" r="1.0"/><circle cx="653.8" cy="152.6" r="1.0"/><circle cx="666.6" cy="104.5" r="1.0"/><circle cx="659.3" cy="145.1" r="1.0"/><circle cx="669.3" cy="142.5" r="1.0"/><circle cx="663.7" cy="96.9" r="1.0"/><circle cx="659.1" cy="69.1" r="1.0"/><circle cx="664.3" cy="79.9" r="1.0"/><circle cx="667.0" cy="93.0" r="1.0"/><circle cx="664.9" cy="173.2" r="1.0"/><circle cx="655.3" cy="64.5" r="1.0"/><circle cx="667.4" cy="134.9" r="1.0"/><circle cx="668.4" cy="137.1" r="1.0"/><circle cx="655.3" cy="127.5" r="1.0"/><circle cx="667.2" cy="135.4" r="1.0"/><circle cx="660.2" cy="104.8" r="1.0"/><circle cx="660.5" cy="54.8" r="1.0"/><circle cx="656.1" cy="159.4" r="1.0"/><circle cx="658.2" cy="151.5" r="1.0"/><circle cx="661.3" cy="175.0" r="1.0"/><circle cx="662.6" cy="165.9" r="1.0"/><circle cx="660.2" cy="177.3" r="1.0"/><circle cx="657.0" cy="151.5" r="1.0"/><circle cx="653.8" cy="127.7" r="1.0"/><circle cx="665.7" cy="114.4" r="1.0"/><circle cx="660.7" cy="75.8" r="1.0"/><circle cx="669.5" cy="111.9" r="1.0"/><circle cx="669.0" cy="120.5" r="1.0"/><circle cx="653.5" cy="171.7" r="1.0"/><circle cx="666.6" cy="151.4" r="1.0"/><circle cx="665.8" cy="109.7" r="1.0"/><circle cx="659.6" cy="100.4" r="1.0"/><circle cx="660.8" cy="139.0" r="1.0"/><circle cx="668.9" cy="127.1" r="1.0"/><circle cx="665.2" cy="100.8" r="1.0"/><circle cx="659.0" cy="102.3" r="1.0"/><circle cx="668.8" cy="136.2" r="1.0"/><circle cx="653.9" cy="99.3" r="1.0"/><circle cx="667.7" cy="96.7" r="1.0"/><circle cx="657.4" cy="101.4" r="1.0"/><circle cx="668.1" cy="97.5" r="1.0"/><circle cx="653.6" cy="172.0" r="1.0"/><circle cx="654.2" cy="141.5" r="1.0"/><circle cx="658.0" cy="65.7" r="1.0"/><circle cx="655.4" cy="137.7" r="1.0"/><circle cx="668.2" cy="154.0" r="1.0"/><circle cx="652.9" cy="151.5" r="1.0"/><circle cx="666.3" cy="149.8" r="1.0"/><circle cx="653.1" cy="149.2" r="1.0"/><circle cx="669.6" cy="98.4" r="1.0"/><circle cx="663.4" cy="108.4" r="1.0"/><circle cx="665.2" cy="152.3" r="1.0"/><circle cx="663.2" cy="168.7" r="1.0"/><circle cx="657.5" cy="159.0" r="1.0"/><circle cx="659.5" cy="89.0" r="1.0"/><circle cx="663.3" cy="106.2" r="1.0"/><circle cx="660.9" cy="82.0" r="1.0"/><circle cx="655.6" cy="168.7" r="1.0"/><circle cx="654.5" cy="151.6" r="1.0"/><circle cx="663.9" cy="176.6" r="1.0"/><circle cx="666.9" cy="100.6" r="1.0"/><circle cx="657.8" cy="142.7" r="1.0"/><circle cx="665.4" cy="127.4" r="1.0"/><circle cx="652.4" cy="62.7" r="1.0"/><circle cx="666.1" cy="155.4" r="1.0"/><circle cx="664.0" cy="111.5" r="1.0"/><circle cx="668.7" cy="160.6" r="1.0"/><circle cx="668.1" cy="102.1" r="1.0"/><circle cx="667.5" cy="112.6" r="1.0"/><circle cx="670.1" cy="161.5" r="1.0"/><circle cx="665.7" cy="157.8" r="1.0"/><circle cx="656.4" cy="130.4" r="1.0"/><circle cx="660.3" cy="78.1" r="1.0"/><circle cx="657.9" cy="142.6" r="1.0"/><circle cx="657.2" cy="151.3" r="1.0"/><circle cx="653.0" cy="95.5" r="1.0"/><circle cx="656.3" cy="72.9" r="1.0"/><circle cx="665.4" cy="158.0" r="1.0"/><circle cx="662.8" cy="163.5" r="1.0"/><circle cx="668.9" cy="128.3" r="1.0"/><circle cx="662.2" cy="155.4" r="1.0"/><circle cx="668.4" cy="158.9" r="1.0"/><circle cx="657.1" cy="120.1" r="1.0"/><circle cx="667.5" cy="122.2" r="1.0"/><circle cx="669.8" cy="105.5" r="1.0"/><circle cx="656.8" cy="154.0" r="1.0"/><circle cx="663.8" cy="133.4" r="1.0"/><circle cx="660.8" cy="99.4" r="1.0"/><circle cx="669.8" cy="128.3" r="1.0"/><circle cx="664.1" cy="131.2" r="1.0"/><circle cx="661.4" cy="104.8" r="1.0"/><circle cx="652.4" cy="81.6" r="1.0"/><circle cx="662.9" cy="117.0" r="1.0"/><circle cx="669.3" cy="131.5" r="1.0"/><circle cx="667.7" cy="136.0" r="1.0"/><circle cx="664.2" cy="75.2" r="1.0"/><circle cx="657.7" cy="167.1" r="1.0"/><circle cx="660.8" cy="118.9" r="1.0"/><circle cx="653.5" cy="143.1" r="1.0"/><circle cx="667.2" cy="104.9" r="1.0"/><circle cx="656.9" cy="174.4" r="1.0"/><circle cx="667.0" cy="138.0" r="1.0"/><circle cx="665.2" cy="121.5" r="1.0"/><circle cx="652.3" cy="86.3" r="1.0"/><circle cx="662.3" cy="97.0" r="1.0"/><circle cx="664.0" cy="110.2" r="1.0"/><circle cx="662.7" cy="138.5" r="1.0"/><circle cx="664.4" cy="122.1" r="1.0"/><circle cx="667.5" cy="78.2" r="1.0"/><circle cx="668.8" cy="111.2" r="1.0"/><circle cx="658.7" cy="129.1" r="1.0"/><circle cx="665.6" cy="97.3" r="1.0"/><circle cx="668.1" cy="82.8" r="1.0"/><circle cx="668.6" cy="126.5" r="1.0"/><circle cx="658.5" cy="140.0" r="1.0"/><circle cx="661.0" cy="92.3" r="1.0"/><circle cx="662.7" cy="126.7" r="1.0"/><circle cx="670.5" cy="133.5" r="1.0"/><circle cx="661.8" cy="153.1" r="1.0"/><circle cx="662.9" cy="134.2" r="1.0"/><circle cx="661.0" cy="117.8" r="1.0"/><circle cx="655.1" cy="83.9" r="1.0"/><circle cx="663.0" cy="148.5" r="1.0"/><circle cx="658.9" cy="118.4" r="1.0"/><circle cx="654.9" cy="145.3" r="1.0"/><circle cx="658.0" cy="98.4" r="1.0"/><circle cx="661.5" cy="82.4" r="1.0"/><circle cx="659.7" cy="133.1" r="1.0"/><circle cx="655.1" cy="81.7" r="1.0"/><circle cx="669.3" cy="177.5" r="1.0"/><circle cx="658.6" cy="81.3" r="1.0"/><circle cx="659.5" cy="95.1" r="1.0"/><circle cx="663.8" cy="105.5" r="1.0"/><circle cx="654.8" cy="141.2" r="1.0"/><circle cx="661.8" cy="58.4" r="1.0"/><circle cx="667.4" cy="132.7" r="1.0"/><circle cx="655.9" cy="74.0" r="1.0"/><circle cx="662.3" cy="62.7" r="1.0"/><circle cx="654.2" cy="98.3" r="1.0"/><circle cx="666.7" cy="109.5" r="1.0"/><circle cx="664.8" cy="76.7" r="1.0"/><circle cx="658.5" cy="139.4" r="1.0"/><circle cx="665.1" cy="78.1" r="1.0"/><circle cx="657.4" cy="130.0" r="1.0"/><circle cx="665.3" cy="138.1" r="1.0"/><circle cx="665.7" cy="149.0" r="1.0"/><circle cx="656.2" cy="139.3" r="1.0"/><circle cx="669.3" cy="158.6" r="1.0"/><circle cx="667.9" cy="78.8" r="1.0"/><circle cx="667.8" cy="59.6" r="1.0"/><circle cx="661.3" cy="136.6" r="1.0"/><circle cx="669.5" cy="120.5" r="1.0"/><circle cx="659.1" cy="141.6" r="1.0"/><circle cx="669.8" cy="85.0" r="1.0"/><circle cx="665.3" cy="130.3" r="1.0"/><circle cx="653.0" cy="108.9" r="1.0"/><circle cx="656.0" cy="185.9" r="1.0"/><circle cx="655.0" cy="191.4" r="1.0"/><circle cx="663.1" cy="183.9" r="1.0"/><circle cx="669.7" cy="182.6" r="1.0"/><circle cx="669.7" cy="189.8" r="1.0"/><circle cx="666.4" cy="191.4" r="1.0"/><circle cx="659.2" cy="200.3" r="1.0"/><circle cx="668.0" cy="202.2" r="1.0"/><circle cx="661.5" cy="228.4" r="1.0"/><circle cx="659.2" cy="284.6" r="1.0"/><circle cx="663.1" cy="284.6" r="1.0"/><circle cx="667.4" cy="284.6" r="1.0"/></g>
<g font-size="12" fill="#333" stroke="#333" stroke-width="0.2" text-anchor="end">
<text x="372" y="60.4">100%</text>
<text x="370.8" y="137.6">10%</text>
<text x="370.2" y="211.4">1%</text>
</g>
<text transform="translate(340.9 166) rotate(-90)" font-size="16.4" fill="#222" stroke="#222" stroke-width="0.3" text-anchor="middle" textLength="70.5" lengthAdjust="spacingAndGlyphs">Precision</text>
<g font-size="14" fill="#222" stroke="#222" stroke-width="0.3" text-anchor="middle">
<text x="438.6" y="315.7">C18_pH2</text>
<text x="548.6" y="315.9">HLB_pH2</text>
<text x="666.5" y="315.7">WAX</text>
</g>
</svg>
</body></html>
